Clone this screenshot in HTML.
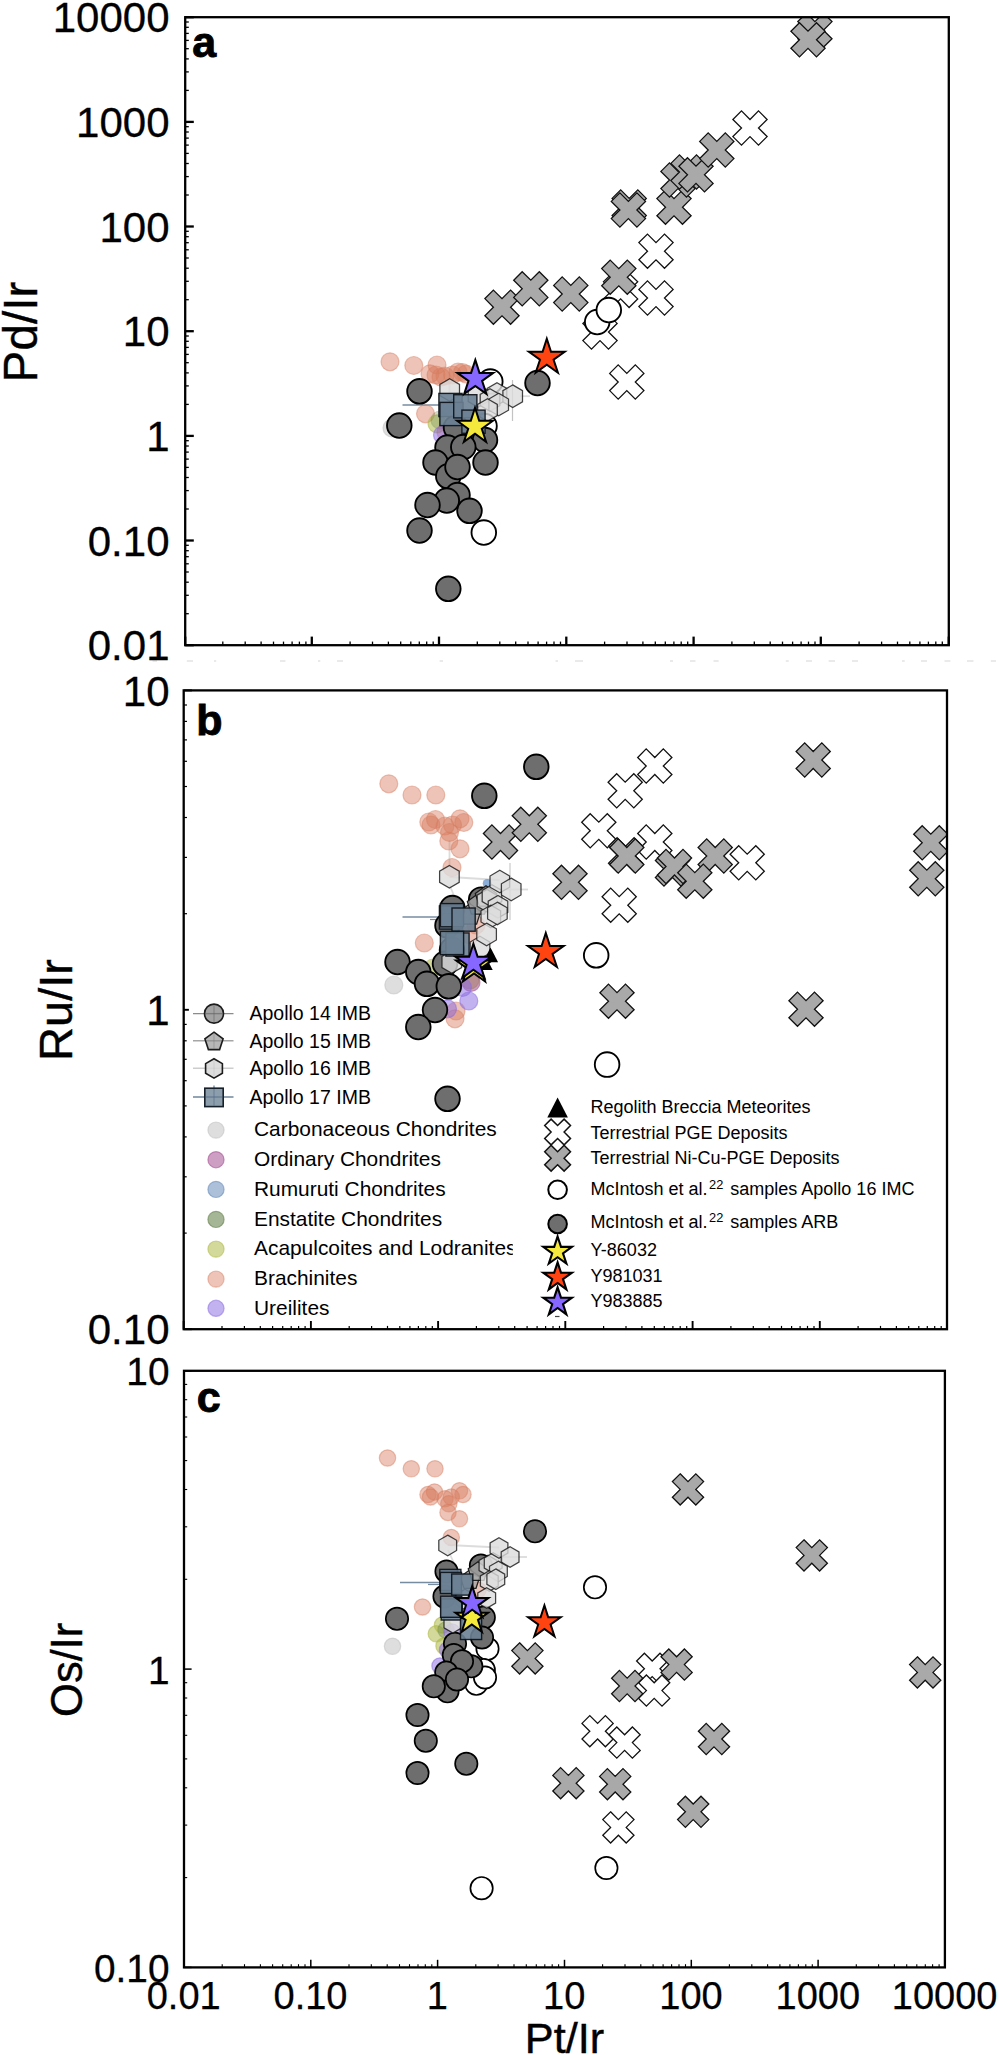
<!DOCTYPE html>
<html><head><meta charset="utf-8"><title>PGE ratios</title>
<style>html,body{margin:0;padding:0;background:#fff}svg{display:block}text{font-family:"Liberation Sans",sans-serif}</style>
</head><body>
<svg width="1000" height="2055" viewBox="0 0 1000 2055">
<rect width="1000" height="2055" fill="#fff"/>
<g stroke="#e1e1e1" stroke-width="1.4">
<line x1="152.5" y1="661" x2="157" y2="661"/>
<line x1="186.8" y1="661" x2="193" y2="661"/>
<line x1="214" y1="661" x2="216.2" y2="661"/>
<line x1="280" y1="661" x2="285.5" y2="661"/>
<line x1="318" y1="661" x2="320.3" y2="661"/>
<line x1="337" y1="661" x2="343" y2="661"/>
<line x1="439.6" y1="661" x2="443" y2="661"/>
<line x1="555.5" y1="661" x2="558" y2="661"/>
<line x1="575" y1="661" x2="583" y2="661"/>
<line x1="670" y1="661" x2="673" y2="661"/>
<line x1="690" y1="661" x2="695.5" y2="661"/>
<line x1="713.5" y1="661" x2="718.6" y2="661"/>
<line x1="785.8" y1="661" x2="788.7" y2="661"/>
<line x1="806" y1="661" x2="812" y2="661"/>
<line x1="828.6" y1="661" x2="835" y2="661"/>
<line x1="852" y1="661" x2="858" y2="661"/>
<line x1="902" y1="661" x2="904.7" y2="661"/>
<line x1="921" y1="661" x2="927" y2="661"/>
<line x1="944.5" y1="661" x2="950.4" y2="661"/>
<line x1="967" y1="661" x2="973.5" y2="661"/>
<line x1="990.8" y1="661" x2="996" y2="661"/>
</g>
<g id="panel-a">
<clipPath id="clip-a"><rect x="185.2" y="17.2" width="763.6" height="628.0"/></clipPath>
<g clip-path="url(#clip-a)">
<line x1="402.5" y1="405.0" x2="441.0" y2="405.0" stroke="rgba(95,120,145,0.85)" stroke-width="1.4"/>
<line x1="449.5" y1="372.0" x2="449.5" y2="394.0" stroke="rgba(218,218,218,0.95)" stroke-width="1.8"/>
<line x1="457.0" y1="430.0" x2="457.0" y2="443.0" stroke="rgba(218,218,218,0.95)" stroke-width="1.8"/>
<line x1="512.5" y1="380.0" x2="512.5" y2="421.0" stroke="rgba(170,170,170,0.7)" stroke-width="1.2"/>
<line x1="520.0" y1="396.2" x2="530.0" y2="396.2" stroke="rgba(218,218,218,0.95)" stroke-width="1.8"/>
<line x1="487.5" y1="395.0" x2="487.5" y2="425.0" stroke="rgba(218,218,218,0.95)" stroke-width="1.8"/>
<circle cx="392.0" cy="428.0" r="9.0" fill="rgba(190,190,190,0.5)" stroke="rgba(190,190,190,0.5)" stroke-width="1.2"/>
<circle cx="390.0" cy="361.8" r="9.0" fill="rgba(215,125,95,0.45)" stroke="rgba(215,125,95,0.45)" stroke-width="1.2"/>
<circle cx="413.8" cy="365.5" r="9.0" fill="rgba(215,125,95,0.45)" stroke="rgba(215,125,95,0.45)" stroke-width="1.2"/>
<circle cx="437.0" cy="365.0" r="9.0" fill="rgba(215,125,95,0.45)" stroke="rgba(215,125,95,0.45)" stroke-width="1.2"/>
<circle cx="430.0" cy="373.8" r="9.0" fill="rgba(215,125,95,0.45)" stroke="rgba(215,125,95,0.45)" stroke-width="1.2"/>
<circle cx="436.0" cy="375.0" r="9.0" fill="rgba(215,125,95,0.45)" stroke="rgba(215,125,95,0.45)" stroke-width="1.2"/>
<circle cx="441.0" cy="377.0" r="9.0" fill="rgba(215,125,95,0.45)" stroke="rgba(215,125,95,0.45)" stroke-width="1.2"/>
<circle cx="445.0" cy="376.0" r="9.0" fill="rgba(215,125,95,0.45)" stroke="rgba(215,125,95,0.45)" stroke-width="1.2"/>
<circle cx="452.5" cy="375.0" r="9.0" fill="rgba(215,125,95,0.45)" stroke="rgba(215,125,95,0.45)" stroke-width="1.2"/>
<circle cx="458.0" cy="372.0" r="9.0" fill="rgba(215,125,95,0.45)" stroke="rgba(215,125,95,0.45)" stroke-width="1.2"/>
<circle cx="462.5" cy="372.5" r="9.0" fill="rgba(215,125,95,0.45)" stroke="rgba(215,125,95,0.45)" stroke-width="1.2"/>
<circle cx="466.0" cy="374.0" r="9.0" fill="rgba(215,125,95,0.45)" stroke="rgba(215,125,95,0.45)" stroke-width="1.2"/>
<circle cx="425.5" cy="413.8" r="9.0" fill="rgba(215,125,95,0.45)" stroke="rgba(215,125,95,0.45)" stroke-width="1.2"/>
<circle cx="437.0" cy="423.8" r="9.0" fill="rgba(175,185,70,0.545)" stroke="rgba(175,185,70,0.545)" stroke-width="1.2"/>
<circle cx="440.0" cy="420.0" r="9.0" fill="rgba(95,125,70,0.56)" stroke="rgba(95,125,70,0.56)" stroke-width="1.2" opacity="0.5"/>
<circle cx="442.5" cy="435.0" r="9.0" fill="rgba(140,110,225,0.53)" stroke="rgba(140,110,225,0.53)" stroke-width="1.2"/>
<circle cx="446.0" cy="432.0" r="9.0" fill="rgba(160,70,140,0.52)" stroke="rgba(160,70,140,0.52)" stroke-width="1.2" opacity="0.5"/>
<polygon points="741.5,110.9 750.0,119.5 758.5,110.9 767.1,119.5 758.5,128.0 767.1,136.6 758.5,145.1 750.0,136.6 741.5,145.1 732.9,136.6 741.5,128.0 732.9,119.5" fill="#fff" stroke="#111" stroke-width="1.3" stroke-linejoin="miter"/>
<polygon points="647.5,234.1 656.0,242.6 664.5,234.1 673.1,242.6 664.5,251.2 673.1,259.8 664.5,268.3 656.0,259.8 647.5,268.3 638.9,259.8 647.5,251.2 638.9,242.6" fill="#fff" stroke="#111" stroke-width="1.3" stroke-linejoin="miter"/>
<polygon points="647.5,280.9 656.0,289.4 664.5,280.9 673.1,289.4 664.5,298.0 673.1,306.6 664.5,315.1 656.0,306.6 647.5,315.1 638.9,306.6 647.5,298.0 638.9,289.4" fill="#fff" stroke="#111" stroke-width="1.3" stroke-linejoin="miter"/>
<polygon points="612.1,273.3 620.6,281.8 629.1,273.3 637.7,281.8 629.1,290.4 637.7,298.9 629.1,307.5 620.6,298.9 612.1,307.5 603.5,298.9 612.1,290.4 603.5,281.8" fill="#fff" stroke="#111" stroke-width="1.3" stroke-linejoin="miter"/>
<polygon points="591.5,314.9 600.0,323.4 608.5,314.9 617.1,323.4 608.5,332.0 617.1,340.6 608.5,349.1 600.0,340.6 591.5,349.1 582.9,340.6 591.5,332.0 582.9,323.4" fill="#fff" stroke="#111" stroke-width="1.3" stroke-linejoin="miter"/>
<polygon points="618.2,364.9 626.8,373.4 635.3,364.9 643.9,373.4 635.3,382.0 643.9,390.6 635.3,399.1 626.8,390.6 618.2,399.1 609.7,390.6 618.2,382.0 609.7,373.4" fill="#fff" stroke="#111" stroke-width="1.3" stroke-linejoin="miter"/>
<polygon points="806.4,13.1 814.9,21.6 823.4,13.1 832.0,21.6 823.4,30.2 832.0,38.8 823.4,47.3 814.9,38.8 806.4,47.3 797.8,38.8 806.4,30.2 797.8,21.6" fill="#a9a9a9" stroke="#111" stroke-width="1.3" stroke-linejoin="miter"/>
<polygon points="799.5,22.7 808.0,31.2 816.5,22.7 825.1,31.2 816.5,39.8 825.1,48.3 816.5,56.9 808.0,48.3 799.5,56.9 790.9,48.3 799.5,39.8 790.9,31.2" fill="#a9a9a9" stroke="#111" stroke-width="1.3" stroke-linejoin="miter"/>
<polygon points="493.4,290.1 502.0,298.6 510.6,290.1 519.1,298.6 510.6,307.2 519.1,315.8 510.6,324.3 502.0,315.8 493.4,324.3 484.9,315.8 493.4,307.2 484.9,298.6" fill="#a9a9a9" stroke="#111" stroke-width="1.3" stroke-linejoin="miter"/>
<polygon points="522.2,271.7 530.8,280.2 539.3,271.7 547.9,280.2 539.3,288.8 547.9,297.4 539.3,305.9 530.8,297.4 522.2,305.9 513.7,297.4 522.2,288.8 513.7,280.2" fill="#a9a9a9" stroke="#111" stroke-width="1.3" stroke-linejoin="miter"/>
<polygon points="562.2,276.9 570.8,285.4 579.3,276.9 587.9,285.4 579.3,294.0 587.9,302.6 579.3,311.1 570.8,302.6 562.2,311.1 553.7,302.6 562.2,294.0 553.7,285.4" fill="#a9a9a9" stroke="#111" stroke-width="1.3" stroke-linejoin="miter"/>
<polygon points="610.2,260.1 618.8,268.6 627.3,260.1 635.9,268.6 627.3,277.2 635.9,285.8 627.3,294.3 618.8,285.8 610.2,294.3 601.7,285.8 610.2,277.2 601.7,268.6" fill="#a9a9a9" stroke="#111" stroke-width="1.3" stroke-linejoin="miter"/>
<polygon points="620.7,189.9 629.2,198.4 637.8,189.9 646.3,198.4 637.8,207.0 646.3,215.6 637.8,224.1 629.2,215.6 620.7,224.1 612.1,215.6 620.7,207.0 612.1,198.4" fill="#a9a9a9" stroke="#111" stroke-width="1.3" stroke-linejoin="miter"/>
<polygon points="619.9,192.9 628.4,201.4 636.9,192.9 645.5,201.4 636.9,210.0 645.5,218.6 636.9,227.1 628.4,218.6 619.9,227.1 611.3,218.6 619.9,210.0 611.3,201.4" fill="#a9a9a9" stroke="#111" stroke-width="1.3" stroke-linejoin="miter"/>
<polygon points="665.5,190.1 674.0,198.6 682.5,190.1 691.1,198.6 682.5,207.2 691.1,215.8 682.5,224.3 674.0,215.8 665.5,224.3 656.9,215.8 665.5,207.2 656.9,198.6" fill="#a9a9a9" stroke="#111" stroke-width="1.3" stroke-linejoin="miter"/>
<polygon points="669.5,162.9 678.0,171.4 686.5,162.9 695.1,171.4 686.5,180.0 695.1,188.6 686.5,197.1 678.0,188.6 669.5,197.1 660.9,188.6 669.5,180.0 660.9,171.4" fill="#a9a9a9" stroke="#111" stroke-width="1.3" stroke-linejoin="miter"/>
<polygon points="679.5,154.9 688.0,163.4 696.5,154.9 705.1,163.4 696.5,172.0 705.1,180.6 696.5,189.1 688.0,180.6 679.5,189.1 670.9,180.6 679.5,172.0 670.9,163.4" fill="#a9a9a9" stroke="#111" stroke-width="1.3" stroke-linejoin="miter"/>
<polygon points="687.5,157.7 696.0,166.2 704.5,157.7 713.1,166.2 704.5,174.8 713.1,183.4 704.5,191.9 696.0,183.4 687.5,191.9 678.9,183.4 687.5,174.8 678.9,166.2" fill="#a9a9a9" stroke="#111" stroke-width="1.3" stroke-linejoin="miter"/>
<polygon points="708.2,132.9 716.8,141.4 725.3,132.9 733.9,141.4 725.3,150.0 733.9,158.6 725.3,167.1 716.8,158.6 708.2,167.1 699.7,158.6 708.2,150.0 699.7,141.4" fill="#a9a9a9" stroke="#111" stroke-width="1.3" stroke-linejoin="miter"/>
<circle cx="597.2" cy="322.0" r="12.3" fill="#fff" stroke="#000" stroke-width="1.85"/>
<circle cx="608.8" cy="310.0" r="12.3" fill="#fff" stroke="#000" stroke-width="1.85"/>
<circle cx="490.3" cy="381.5" r="12.3" fill="#fff" stroke="#000" stroke-width="1.85"/>
<circle cx="484.5" cy="426.0" r="12.3" fill="#fff" stroke="#000" stroke-width="1.85"/>
<circle cx="483.8" cy="532.5" r="12.3" fill="#fff" stroke="#000" stroke-width="1.85"/>
<circle cx="419.5" cy="391.3" r="12.3" fill="#6e6e6e" stroke="#000" stroke-width="1.85"/>
<circle cx="399.3" cy="425.5" r="12.3" fill="#6e6e6e" stroke="#000" stroke-width="1.85"/>
<circle cx="537.5" cy="383.0" r="12.3" fill="#6e6e6e" stroke="#000" stroke-width="1.85"/>
<circle cx="456.0" cy="427.5" r="12.3" fill="#6e6e6e" stroke="#000" stroke-width="1.85"/>
<circle cx="447.5" cy="447.5" r="12.3" fill="#6e6e6e" stroke="#000" stroke-width="1.85"/>
<circle cx="485.0" cy="440.0" r="12.3" fill="#6e6e6e" stroke="#000" stroke-width="1.85"/>
<circle cx="463.3" cy="447.0" r="12.3" fill="#6e6e6e" stroke="#000" stroke-width="1.85"/>
<circle cx="435.5" cy="462.5" r="12.3" fill="#6e6e6e" stroke="#000" stroke-width="1.85"/>
<circle cx="448.3" cy="476.3" r="12.3" fill="#6e6e6e" stroke="#000" stroke-width="1.85"/>
<circle cx="457.5" cy="467.0" r="12.3" fill="#6e6e6e" stroke="#000" stroke-width="1.85"/>
<circle cx="485.5" cy="462.5" r="12.3" fill="#6e6e6e" stroke="#000" stroke-width="1.85"/>
<circle cx="457.5" cy="495.0" r="12.3" fill="#6e6e6e" stroke="#000" stroke-width="1.85"/>
<circle cx="446.8" cy="500.5" r="12.3" fill="#6e6e6e" stroke="#000" stroke-width="1.85"/>
<circle cx="427.5" cy="505.0" r="12.3" fill="#6e6e6e" stroke="#000" stroke-width="1.85"/>
<circle cx="469.5" cy="510.8" r="12.3" fill="#6e6e6e" stroke="#000" stroke-width="1.85"/>
<circle cx="419.5" cy="530.5" r="12.3" fill="#6e6e6e" stroke="#000" stroke-width="1.85"/>
<circle cx="448.3" cy="588.8" r="12.3" fill="#6e6e6e" stroke="#000" stroke-width="1.85"/>
<polygon points="449.7,378.7 459.5,384.4 459.5,395.6 449.7,401.3 439.9,395.6 439.9,384.4" fill="rgba(220,220,220,0.8)" stroke="rgba(20,20,20,0.8)" stroke-width="1.25"/>
<polygon points="497.0,382.7 506.8,388.4 506.8,399.6 497.0,405.3 487.2,399.6 487.2,388.4" fill="rgba(220,220,220,0.8)" stroke="rgba(20,20,20,0.8)" stroke-width="1.25"/>
<polygon points="512.7,384.9 522.5,390.6 522.5,401.8 512.7,407.5 502.9,401.8 502.9,390.6" fill="rgba(220,220,220,0.8)" stroke="rgba(20,20,20,0.8)" stroke-width="1.25"/>
<polygon points="478.0,384.7 487.8,390.4 487.8,401.6 478.0,407.3 468.2,401.6 468.2,390.4" fill="rgba(220,220,220,0.8)" stroke="rgba(20,20,20,0.8)" stroke-width="1.25"/>
<polygon points="490.0,388.7 499.8,394.4 499.8,405.6 490.0,411.3 480.2,405.6 480.2,394.4" fill="rgba(220,220,220,0.8)" stroke="rgba(20,20,20,0.8)" stroke-width="1.25"/>
<polygon points="498.7,393.3 508.5,399.0 508.5,410.2 498.7,415.9 488.9,410.2 488.9,399.0" fill="rgba(220,220,220,0.8)" stroke="rgba(20,20,20,0.8)" stroke-width="1.25"/>
<polygon points="487.5,398.7 497.3,404.4 497.3,415.6 487.5,421.3 477.7,415.6 477.7,404.4" fill="rgba(220,220,220,0.8)" stroke="rgba(20,20,20,0.8)" stroke-width="1.25"/>
<rect x="438.9" y="393.4" width="23.2" height="23.2" fill="rgba(108,129,148,0.9)" stroke="rgba(10,16,22,0.9)" stroke-width="1.4"/>
<rect x="439.9" y="402.4" width="23.2" height="23.2" fill="rgba(108,129,148,0.9)" stroke="rgba(10,16,22,0.9)" stroke-width="1.4"/>
<rect x="453.7" y="394.7" width="23.2" height="23.2" fill="rgba(108,129,148,0.9)" stroke="rgba(10,16,22,0.9)" stroke-width="1.4"/>
<rect x="461.9" y="410.1" width="23.2" height="23.2" fill="rgba(108,129,148,0.9)" stroke="rgba(10,16,22,0.9)" stroke-width="1.4"/>
<polygon points="475.0,407.8 479.2,420.8 492.9,420.8 481.8,428.8 486.1,441.8 475.0,433.8 463.9,441.8 468.2,428.8 457.1,420.8 470.8,420.8" fill="#f4e93c" stroke="#000" stroke-width="2.0" stroke-linejoin="miter"/>
<polygon points="546.8,338.7 551.0,351.7 564.7,351.7 553.6,359.7 557.9,372.7 546.8,364.7 535.7,372.7 540.0,359.7 528.9,351.7 542.6,351.7" fill="#ff4412" stroke="#000" stroke-width="2.0" stroke-linejoin="miter"/>
<polygon points="475.3,359.9 479.5,372.9 493.2,372.9 482.1,380.9 486.4,393.9 475.3,385.9 464.2,393.9 468.5,380.9 457.4,372.9 471.1,372.9" fill="#8667ff" stroke="#000" stroke-width="2.0" stroke-linejoin="miter"/>
</g>
<line x1="185.2" y1="645.2" x2="185.2" y2="636.6" stroke="#000" stroke-width="2.3"/>
<line x1="222.8" y1="645.2" x2="222.8" y2="641.6" stroke="#000" stroke-width="1.3"/>
<line x1="245.2" y1="645.2" x2="245.2" y2="641.6" stroke="#000" stroke-width="1.3"/>
<line x1="261.1" y1="645.2" x2="261.1" y2="641.6" stroke="#000" stroke-width="1.3"/>
<line x1="273.5" y1="645.2" x2="273.5" y2="641.6" stroke="#000" stroke-width="1.3"/>
<line x1="283.5" y1="645.2" x2="283.5" y2="641.6" stroke="#000" stroke-width="1.3"/>
<line x1="292.1" y1="645.2" x2="292.1" y2="641.6" stroke="#000" stroke-width="1.3"/>
<line x1="299.4" y1="645.2" x2="299.4" y2="641.6" stroke="#000" stroke-width="1.3"/>
<line x1="305.9" y1="645.2" x2="305.9" y2="641.6" stroke="#000" stroke-width="1.3"/>
<line x1="311.8" y1="645.2" x2="311.8" y2="636.6" stroke="#000" stroke-width="2.3"/>
<line x1="350.1" y1="645.2" x2="350.1" y2="641.6" stroke="#000" stroke-width="1.3"/>
<line x1="372.5" y1="645.2" x2="372.5" y2="641.6" stroke="#000" stroke-width="1.3"/>
<line x1="388.4" y1="645.2" x2="388.4" y2="641.6" stroke="#000" stroke-width="1.3"/>
<line x1="400.7" y1="645.2" x2="400.7" y2="641.6" stroke="#000" stroke-width="1.3"/>
<line x1="410.8" y1="645.2" x2="410.8" y2="641.6" stroke="#000" stroke-width="1.3"/>
<line x1="419.3" y1="645.2" x2="419.3" y2="641.6" stroke="#000" stroke-width="1.3"/>
<line x1="426.7" y1="645.2" x2="426.7" y2="641.6" stroke="#000" stroke-width="1.3"/>
<line x1="433.2" y1="645.2" x2="433.2" y2="641.6" stroke="#000" stroke-width="1.3"/>
<line x1="439.0" y1="645.2" x2="439.0" y2="636.6" stroke="#000" stroke-width="2.3"/>
<line x1="477.3" y1="645.2" x2="477.3" y2="641.6" stroke="#000" stroke-width="1.3"/>
<line x1="499.8" y1="645.2" x2="499.8" y2="641.6" stroke="#000" stroke-width="1.3"/>
<line x1="515.7" y1="645.2" x2="515.7" y2="641.6" stroke="#000" stroke-width="1.3"/>
<line x1="528.0" y1="645.2" x2="528.0" y2="641.6" stroke="#000" stroke-width="1.3"/>
<line x1="538.1" y1="645.2" x2="538.1" y2="641.6" stroke="#000" stroke-width="1.3"/>
<line x1="546.6" y1="645.2" x2="546.6" y2="641.6" stroke="#000" stroke-width="1.3"/>
<line x1="554.0" y1="645.2" x2="554.0" y2="641.6" stroke="#000" stroke-width="1.3"/>
<line x1="560.5" y1="645.2" x2="560.5" y2="641.6" stroke="#000" stroke-width="1.3"/>
<line x1="566.3" y1="645.2" x2="566.3" y2="636.6" stroke="#000" stroke-width="2.3"/>
<line x1="604.6" y1="645.2" x2="604.6" y2="641.6" stroke="#000" stroke-width="1.3"/>
<line x1="627.0" y1="645.2" x2="627.0" y2="641.6" stroke="#000" stroke-width="1.3"/>
<line x1="642.9" y1="645.2" x2="642.9" y2="641.6" stroke="#000" stroke-width="1.3"/>
<line x1="655.3" y1="645.2" x2="655.3" y2="641.6" stroke="#000" stroke-width="1.3"/>
<line x1="665.3" y1="645.2" x2="665.3" y2="641.6" stroke="#000" stroke-width="1.3"/>
<line x1="673.9" y1="645.2" x2="673.9" y2="641.6" stroke="#000" stroke-width="1.3"/>
<line x1="681.2" y1="645.2" x2="681.2" y2="641.6" stroke="#000" stroke-width="1.3"/>
<line x1="687.7" y1="645.2" x2="687.7" y2="641.6" stroke="#000" stroke-width="1.3"/>
<line x1="693.6" y1="645.2" x2="693.6" y2="636.6" stroke="#000" stroke-width="2.3"/>
<line x1="731.9" y1="645.2" x2="731.9" y2="641.6" stroke="#000" stroke-width="1.3"/>
<line x1="754.3" y1="645.2" x2="754.3" y2="641.6" stroke="#000" stroke-width="1.3"/>
<line x1="770.2" y1="645.2" x2="770.2" y2="641.6" stroke="#000" stroke-width="1.3"/>
<line x1="782.5" y1="645.2" x2="782.5" y2="641.6" stroke="#000" stroke-width="1.3"/>
<line x1="792.6" y1="645.2" x2="792.6" y2="641.6" stroke="#000" stroke-width="1.3"/>
<line x1="801.1" y1="645.2" x2="801.1" y2="641.6" stroke="#000" stroke-width="1.3"/>
<line x1="808.5" y1="645.2" x2="808.5" y2="641.6" stroke="#000" stroke-width="1.3"/>
<line x1="815.0" y1="645.2" x2="815.0" y2="641.6" stroke="#000" stroke-width="1.3"/>
<line x1="820.8" y1="645.2" x2="820.8" y2="636.6" stroke="#000" stroke-width="2.3"/>
<line x1="859.1" y1="645.2" x2="859.1" y2="641.6" stroke="#000" stroke-width="1.3"/>
<line x1="881.6" y1="645.2" x2="881.6" y2="641.6" stroke="#000" stroke-width="1.3"/>
<line x1="897.5" y1="645.2" x2="897.5" y2="641.6" stroke="#000" stroke-width="1.3"/>
<line x1="909.8" y1="645.2" x2="909.8" y2="641.6" stroke="#000" stroke-width="1.3"/>
<line x1="919.9" y1="645.2" x2="919.9" y2="641.6" stroke="#000" stroke-width="1.3"/>
<line x1="928.4" y1="645.2" x2="928.4" y2="641.6" stroke="#000" stroke-width="1.3"/>
<line x1="935.8" y1="645.2" x2="935.8" y2="641.6" stroke="#000" stroke-width="1.3"/>
<line x1="942.3" y1="645.2" x2="942.3" y2="641.6" stroke="#000" stroke-width="1.3"/>
<line x1="948.8" y1="645.2" x2="948.8" y2="636.6" stroke="#000" stroke-width="2.3"/>
<line x1="185.2" y1="645.2" x2="193.8" y2="645.2" stroke="#000" stroke-width="2.3"/>
<line x1="185.2" y1="613.7" x2="188.8" y2="613.7" stroke="#000" stroke-width="1.3"/>
<line x1="185.2" y1="595.3" x2="188.8" y2="595.3" stroke="#000" stroke-width="1.3"/>
<line x1="185.2" y1="582.2" x2="188.8" y2="582.2" stroke="#000" stroke-width="1.3"/>
<line x1="185.2" y1="572.0" x2="188.8" y2="572.0" stroke="#000" stroke-width="1.3"/>
<line x1="185.2" y1="563.8" x2="188.8" y2="563.8" stroke="#000" stroke-width="1.3"/>
<line x1="185.2" y1="556.7" x2="188.8" y2="556.7" stroke="#000" stroke-width="1.3"/>
<line x1="185.2" y1="550.7" x2="188.8" y2="550.7" stroke="#000" stroke-width="1.3"/>
<line x1="185.2" y1="545.3" x2="188.8" y2="545.3" stroke="#000" stroke-width="1.3"/>
<line x1="185.2" y1="540.5" x2="193.8" y2="540.5" stroke="#000" stroke-width="2.3"/>
<line x1="185.2" y1="509.0" x2="188.8" y2="509.0" stroke="#000" stroke-width="1.3"/>
<line x1="185.2" y1="490.6" x2="188.8" y2="490.6" stroke="#000" stroke-width="1.3"/>
<line x1="185.2" y1="477.5" x2="188.8" y2="477.5" stroke="#000" stroke-width="1.3"/>
<line x1="185.2" y1="467.4" x2="188.8" y2="467.4" stroke="#000" stroke-width="1.3"/>
<line x1="185.2" y1="459.1" x2="188.8" y2="459.1" stroke="#000" stroke-width="1.3"/>
<line x1="185.2" y1="452.1" x2="188.8" y2="452.1" stroke="#000" stroke-width="1.3"/>
<line x1="185.2" y1="446.0" x2="188.8" y2="446.0" stroke="#000" stroke-width="1.3"/>
<line x1="185.2" y1="440.7" x2="188.8" y2="440.7" stroke="#000" stroke-width="1.3"/>
<line x1="185.2" y1="435.9" x2="193.8" y2="435.9" stroke="#000" stroke-width="2.3"/>
<line x1="185.2" y1="404.4" x2="188.8" y2="404.4" stroke="#000" stroke-width="1.3"/>
<line x1="185.2" y1="385.9" x2="188.8" y2="385.9" stroke="#000" stroke-width="1.3"/>
<line x1="185.2" y1="372.9" x2="188.8" y2="372.9" stroke="#000" stroke-width="1.3"/>
<line x1="185.2" y1="362.7" x2="188.8" y2="362.7" stroke="#000" stroke-width="1.3"/>
<line x1="185.2" y1="354.4" x2="188.8" y2="354.4" stroke="#000" stroke-width="1.3"/>
<line x1="185.2" y1="347.4" x2="188.8" y2="347.4" stroke="#000" stroke-width="1.3"/>
<line x1="185.2" y1="341.3" x2="188.8" y2="341.3" stroke="#000" stroke-width="1.3"/>
<line x1="185.2" y1="336.0" x2="188.8" y2="336.0" stroke="#000" stroke-width="1.3"/>
<line x1="185.2" y1="331.2" x2="193.8" y2="331.2" stroke="#000" stroke-width="2.3"/>
<line x1="185.2" y1="299.7" x2="188.8" y2="299.7" stroke="#000" stroke-width="1.3"/>
<line x1="185.2" y1="281.3" x2="188.8" y2="281.3" stroke="#000" stroke-width="1.3"/>
<line x1="185.2" y1="268.2" x2="188.8" y2="268.2" stroke="#000" stroke-width="1.3"/>
<line x1="185.2" y1="258.0" x2="188.8" y2="258.0" stroke="#000" stroke-width="1.3"/>
<line x1="185.2" y1="249.8" x2="188.8" y2="249.8" stroke="#000" stroke-width="1.3"/>
<line x1="185.2" y1="242.7" x2="188.8" y2="242.7" stroke="#000" stroke-width="1.3"/>
<line x1="185.2" y1="236.7" x2="188.8" y2="236.7" stroke="#000" stroke-width="1.3"/>
<line x1="185.2" y1="231.3" x2="188.8" y2="231.3" stroke="#000" stroke-width="1.3"/>
<line x1="185.2" y1="226.5" x2="193.8" y2="226.5" stroke="#000" stroke-width="2.3"/>
<line x1="185.2" y1="195.0" x2="188.8" y2="195.0" stroke="#000" stroke-width="1.3"/>
<line x1="185.2" y1="176.6" x2="188.8" y2="176.6" stroke="#000" stroke-width="1.3"/>
<line x1="185.2" y1="163.5" x2="188.8" y2="163.5" stroke="#000" stroke-width="1.3"/>
<line x1="185.2" y1="153.4" x2="188.8" y2="153.4" stroke="#000" stroke-width="1.3"/>
<line x1="185.2" y1="145.1" x2="188.8" y2="145.1" stroke="#000" stroke-width="1.3"/>
<line x1="185.2" y1="138.1" x2="188.8" y2="138.1" stroke="#000" stroke-width="1.3"/>
<line x1="185.2" y1="132.0" x2="188.8" y2="132.0" stroke="#000" stroke-width="1.3"/>
<line x1="185.2" y1="126.7" x2="188.8" y2="126.7" stroke="#000" stroke-width="1.3"/>
<line x1="185.2" y1="121.9" x2="193.8" y2="121.9" stroke="#000" stroke-width="2.3"/>
<line x1="185.2" y1="90.4" x2="188.8" y2="90.4" stroke="#000" stroke-width="1.3"/>
<line x1="185.2" y1="71.9" x2="188.8" y2="71.9" stroke="#000" stroke-width="1.3"/>
<line x1="185.2" y1="58.9" x2="188.8" y2="58.9" stroke="#000" stroke-width="1.3"/>
<line x1="185.2" y1="48.7" x2="188.8" y2="48.7" stroke="#000" stroke-width="1.3"/>
<line x1="185.2" y1="40.4" x2="188.8" y2="40.4" stroke="#000" stroke-width="1.3"/>
<line x1="185.2" y1="33.4" x2="188.8" y2="33.4" stroke="#000" stroke-width="1.3"/>
<line x1="185.2" y1="27.3" x2="188.8" y2="27.3" stroke="#000" stroke-width="1.3"/>
<line x1="185.2" y1="22.0" x2="188.8" y2="22.0" stroke="#000" stroke-width="1.3"/>
<line x1="185.2" y1="17.2" x2="193.8" y2="17.2" stroke="#000" stroke-width="2.3"/>
<rect x="185.2" y="17.2" width="763.6" height="628.0" fill="none" stroke="#000" stroke-width="2.3"/>
</g>
<g id="panel-b">
<clipPath id="clip-b"><rect x="183.7" y="690.4" width="763.3" height="638.8"/></clipPath>
<g clip-path="url(#clip-b)">
<line x1="402.5" y1="917.0" x2="441.0" y2="917.0" stroke="rgba(95,120,145,0.85)" stroke-width="1.4"/>
<line x1="430.0" y1="919.5" x2="441.0" y2="919.5" stroke="rgba(95,120,145,0.85)" stroke-width="1.2"/>
<line x1="449.5" y1="840.0" x2="449.5" y2="870.0" stroke="rgba(218,218,218,0.95)" stroke-width="1.8"/>
<line x1="449.5" y1="877.0" x2="499.5" y2="880.0" stroke="rgba(218,218,218,0.95)" stroke-width="1.8"/>
<line x1="449.5" y1="885.0" x2="458.0" y2="905.0" stroke="rgba(218,218,218,0.95)" stroke-width="1.8"/>
<line x1="510.0" y1="863.0" x2="510.0" y2="920.0" stroke="rgba(218,218,218,0.95)" stroke-width="1.8"/>
<line x1="500.0" y1="889.5" x2="528.0" y2="889.5" stroke="rgba(218,218,218,0.95)" stroke-width="1.8"/>
<circle cx="393.8" cy="985.0" r="9.0" fill="rgba(190,190,190,0.5)" stroke="rgba(190,190,190,0.5)" stroke-width="1.2"/>
<circle cx="388.8" cy="783.8" r="9.0" fill="rgba(215,125,95,0.45)" stroke="rgba(215,125,95,0.45)" stroke-width="1.2"/>
<circle cx="412.0" cy="795.0" r="9.0" fill="rgba(215,125,95,0.45)" stroke="rgba(215,125,95,0.45)" stroke-width="1.2"/>
<circle cx="435.8" cy="795.0" r="9.0" fill="rgba(215,125,95,0.45)" stroke="rgba(215,125,95,0.45)" stroke-width="1.2"/>
<circle cx="428.8" cy="822.0" r="9.0" fill="rgba(215,125,95,0.45)" stroke="rgba(215,125,95,0.45)" stroke-width="1.2"/>
<circle cx="435.5" cy="819.5" r="9.0" fill="rgba(215,125,95,0.45)" stroke="rgba(215,125,95,0.45)" stroke-width="1.2"/>
<circle cx="431.0" cy="825.0" r="9.0" fill="rgba(215,125,95,0.45)" stroke="rgba(215,125,95,0.45)" stroke-width="1.2"/>
<circle cx="445.0" cy="826.0" r="9.0" fill="rgba(215,125,95,0.45)" stroke="rgba(215,125,95,0.45)" stroke-width="1.2"/>
<circle cx="452.5" cy="825.0" r="9.0" fill="rgba(215,125,95,0.45)" stroke="rgba(215,125,95,0.45)" stroke-width="1.2"/>
<circle cx="460.0" cy="818.8" r="9.0" fill="rgba(215,125,95,0.45)" stroke="rgba(215,125,95,0.45)" stroke-width="1.2"/>
<circle cx="463.8" cy="822.5" r="9.0" fill="rgba(215,125,95,0.45)" stroke="rgba(215,125,95,0.45)" stroke-width="1.2"/>
<circle cx="449.5" cy="832.5" r="9.0" fill="rgba(215,125,95,0.45)" stroke="rgba(215,125,95,0.45)" stroke-width="1.2"/>
<circle cx="448.8" cy="841.0" r="9.0" fill="rgba(215,125,95,0.45)" stroke="rgba(215,125,95,0.45)" stroke-width="1.2"/>
<circle cx="460.0" cy="848.8" r="9.0" fill="rgba(215,125,95,0.45)" stroke="rgba(215,125,95,0.45)" stroke-width="1.2"/>
<circle cx="452.0" cy="867.5" r="9.0" fill="rgba(215,125,95,0.45)" stroke="rgba(215,125,95,0.45)" stroke-width="1.2"/>
<circle cx="424.3" cy="943.0" r="9.0" fill="rgba(215,125,95,0.45)" stroke="rgba(215,125,95,0.45)" stroke-width="1.2"/>
<circle cx="456.0" cy="1011.0" r="9.0" fill="rgba(215,125,95,0.45)" stroke="rgba(215,125,95,0.45)" stroke-width="1.2"/>
<circle cx="455.0" cy="1018.8" r="9.0" fill="rgba(215,125,95,0.45)" stroke="rgba(215,125,95,0.45)" stroke-width="1.2"/>
<circle cx="470.0" cy="935.0" r="9.0" fill="rgba(215,125,95,0.45)" stroke="rgba(215,125,95,0.45)" stroke-width="1.2"/>
<circle cx="476.0" cy="925.0" r="9.0" fill="rgba(215,125,95,0.45)" stroke="rgba(215,125,95,0.45)" stroke-width="1.2"/>
<circle cx="470.0" cy="980.0" r="9.0" fill="rgba(175,185,70,0.545)" stroke="rgba(175,185,70,0.545)" stroke-width="1.2"/>
<circle cx="433.0" cy="968.0" r="9.0" fill="rgba(175,185,70,0.545)" stroke="rgba(175,185,70,0.545)" stroke-width="1.2"/>
<circle cx="471.0" cy="982.5" r="9.0" fill="rgba(160,70,140,0.52)" stroke="rgba(160,70,140,0.52)" stroke-width="1.2"/>
<circle cx="468.8" cy="1001.0" r="9.0" fill="rgba(140,110,225,0.53)" stroke="rgba(140,110,225,0.53)" stroke-width="1.2"/>
<circle cx="447.5" cy="1008.8" r="9.0" fill="rgba(140,110,225,0.53)" stroke="rgba(140,110,225,0.53)" stroke-width="1.2"/>
<circle cx="462.5" cy="987.5" r="9.0" fill="rgba(140,110,225,0.53)" stroke="rgba(140,110,225,0.53)" stroke-width="1.2"/>
<circle cx="487.2" cy="883.4" r="4.5" fill="rgba(90,140,200,0.7)"/>
<polygon points="646.2,748.9 654.8,757.5 663.3,748.9 671.9,757.5 663.3,766.0 671.9,774.5 663.3,783.1 654.8,774.5 646.2,783.1 637.7,774.5 646.2,766.0 637.7,757.5" fill="#fff" stroke="#111" stroke-width="1.3" stroke-linejoin="miter"/>
<polygon points="616.7,773.7 625.2,782.2 633.8,773.7 642.3,782.2 633.8,790.8 642.3,799.3 633.8,807.9 625.2,799.3 616.7,807.9 608.1,799.3 616.7,790.8 608.1,782.2" fill="#fff" stroke="#111" stroke-width="1.3" stroke-linejoin="miter"/>
<polygon points="590.2,813.7 598.8,822.2 607.3,813.7 615.9,822.2 607.3,830.8 615.9,839.3 607.3,847.9 598.8,839.3 590.2,847.9 581.7,839.3 590.2,830.8 581.7,822.2" fill="#fff" stroke="#111" stroke-width="1.3" stroke-linejoin="miter"/>
<polygon points="646.2,824.9 654.8,833.5 663.3,824.9 671.9,833.5 663.3,842.0 671.9,850.5 663.3,859.1 654.8,850.5 646.2,859.1 637.7,850.5 646.2,842.0 637.7,833.5" fill="#fff" stroke="#111" stroke-width="1.3" stroke-linejoin="miter"/>
<polygon points="738.7,845.7 747.2,854.2 755.8,845.7 764.3,854.2 755.8,862.8 764.3,871.3 755.8,879.9 747.2,871.3 738.7,879.9 730.1,871.3 738.7,862.8 730.1,854.2" fill="#fff" stroke="#111" stroke-width="1.3" stroke-linejoin="miter"/>
<polygon points="610.7,888.1 619.2,896.7 627.8,888.1 636.3,896.7 627.8,905.2 636.3,913.8 627.8,922.3 619.2,913.8 610.7,922.3 602.1,913.8 610.7,905.2 602.1,896.7" fill="#fff" stroke="#111" stroke-width="1.3" stroke-linejoin="miter"/>
<polygon points="804.7,742.9 813.2,751.5 821.8,742.9 830.3,751.5 821.8,760.0 830.3,768.5 821.8,777.1 813.2,768.5 804.7,777.1 796.1,768.5 804.7,760.0 796.1,751.5" fill="#a9a9a9" stroke="#111" stroke-width="1.3" stroke-linejoin="miter"/>
<polygon points="491.9,824.9 500.5,833.5 509.1,824.9 517.6,833.5 509.1,842.0 517.6,850.5 509.1,859.1 500.5,850.5 491.9,859.1 483.4,850.5 491.9,842.0 483.4,833.5" fill="#a9a9a9" stroke="#111" stroke-width="1.3" stroke-linejoin="miter"/>
<polygon points="520.8,807.2 529.3,815.8 537.8,807.2 546.4,815.8 537.8,824.3 546.4,832.8 537.8,841.4 529.3,832.8 520.8,841.4 512.2,832.8 520.8,824.3 512.2,815.8" fill="#a9a9a9" stroke="#111" stroke-width="1.3" stroke-linejoin="miter"/>
<polygon points="617.1,837.7 625.6,846.2 634.1,837.7 642.7,846.2 634.1,854.8 642.7,863.3 634.1,871.9 625.6,863.3 617.1,871.9 608.5,863.3 617.1,854.8 608.5,846.2" fill="#a9a9a9" stroke="#111" stroke-width="1.3" stroke-linejoin="miter"/>
<polygon points="618.2,838.9 626.8,847.5 635.3,838.9 643.9,847.5 635.3,856.0 643.9,864.5 635.3,873.1 626.8,864.5 618.2,873.1 609.7,864.5 618.2,856.0 609.7,847.5" fill="#a9a9a9" stroke="#111" stroke-width="1.3" stroke-linejoin="miter"/>
<polygon points="561.5,865.2 570.0,873.8 578.5,865.2 587.1,873.8 578.5,882.3 587.1,890.8 578.5,899.4 570.0,890.8 561.5,899.4 552.9,890.8 561.5,882.3 552.9,873.8" fill="#a9a9a9" stroke="#111" stroke-width="1.3" stroke-linejoin="miter"/>
<polygon points="664.0,851.9 672.5,860.5 681.0,851.9 689.6,860.5 681.0,869.0 689.6,877.5 681.0,886.1 672.5,877.5 664.0,886.1 655.4,877.5 664.0,869.0 655.4,860.5" fill="#a9a9a9" stroke="#111" stroke-width="1.3" stroke-linejoin="miter"/>
<polygon points="666.0,849.4 674.5,858.0 683.0,849.4 691.6,858.0 683.0,866.5 691.6,875.0 683.0,883.6 674.5,875.0 666.0,883.6 657.4,875.0 666.0,866.5 657.4,858.0" fill="#a9a9a9" stroke="#111" stroke-width="1.3" stroke-linejoin="miter"/>
<polygon points="706.7,838.9 715.2,847.5 723.8,838.9 732.3,847.5 723.8,856.0 732.3,864.5 723.8,873.1 715.2,864.5 706.7,873.1 698.1,864.5 706.7,856.0 698.1,847.5" fill="#a9a9a9" stroke="#111" stroke-width="1.3" stroke-linejoin="miter"/>
<polygon points="686.2,864.1 694.8,872.7 703.3,864.1 711.9,872.7 703.3,881.2 711.9,889.8 703.3,898.3 694.8,889.8 686.2,898.3 677.7,889.8 686.2,881.2 677.7,872.7" fill="#a9a9a9" stroke="#111" stroke-width="1.3" stroke-linejoin="miter"/>
<polygon points="922.2,825.7 930.8,834.2 939.3,825.7 947.9,834.2 939.3,842.8 947.9,851.3 939.3,859.9 930.8,851.3 922.2,859.9 913.7,851.3 922.2,842.8 913.7,834.2" fill="#a9a9a9" stroke="#111" stroke-width="1.3" stroke-linejoin="miter"/>
<polygon points="918.2,861.7 926.8,870.2 935.3,861.7 943.9,870.2 935.3,878.8 943.9,887.3 935.3,895.9 926.8,887.3 918.2,895.9 909.7,887.3 918.2,878.8 909.7,870.2" fill="#a9a9a9" stroke="#111" stroke-width="1.3" stroke-linejoin="miter"/>
<polygon points="608.5,984.1 617.0,992.7 625.5,984.1 634.1,992.7 625.5,1001.2 634.1,1009.8 625.5,1018.3 617.0,1009.8 608.5,1018.3 599.9,1009.8 608.5,1001.2 599.9,992.7" fill="#a9a9a9" stroke="#111" stroke-width="1.3" stroke-linejoin="miter"/>
<polygon points="797.5,992.1 806.0,1000.7 814.5,992.1 823.1,1000.7 814.5,1009.2 823.1,1017.8 814.5,1026.3 806.0,1017.8 797.5,1026.3 788.9,1017.8 797.5,1009.2 788.9,1000.7" fill="#a9a9a9" stroke="#111" stroke-width="1.3" stroke-linejoin="miter"/>
<circle cx="596.2" cy="955.3" r="12.3" fill="#fff" stroke="#000" stroke-width="1.85"/>
<circle cx="607.1" cy="1064.6" r="12.3" fill="#fff" stroke="#000" stroke-width="1.85"/>
<circle cx="536.3" cy="766.8" r="12.3" fill="#6e6e6e" stroke="#000" stroke-width="1.85"/>
<circle cx="484.3" cy="795.8" r="12.3" fill="#6e6e6e" stroke="#000" stroke-width="1.85"/>
<circle cx="481.2" cy="899.6" r="12.3" fill="#6e6e6e" stroke="#000" stroke-width="1.85"/>
<circle cx="452.4" cy="908.0" r="12.3" fill="#6e6e6e" stroke="#000" stroke-width="1.85"/>
<circle cx="447.5" cy="925.5" r="12.3" fill="#6e6e6e" stroke="#000" stroke-width="1.85"/>
<circle cx="452.0" cy="950.0" r="12.3" fill="#6e6e6e" stroke="#000" stroke-width="1.85"/>
<circle cx="397.5" cy="962.0" r="12.3" fill="#6e6e6e" stroke="#000" stroke-width="1.85"/>
<circle cx="445.0" cy="963.8" r="12.3" fill="#6e6e6e" stroke="#000" stroke-width="1.85"/>
<circle cx="418.3" cy="972.0" r="12.3" fill="#6e6e6e" stroke="#000" stroke-width="1.85"/>
<circle cx="427.0" cy="983.8" r="12.3" fill="#6e6e6e" stroke="#000" stroke-width="1.85"/>
<circle cx="448.8" cy="986.3" r="12.3" fill="#6e6e6e" stroke="#000" stroke-width="1.85"/>
<circle cx="435.0" cy="1010.0" r="12.3" fill="#6e6e6e" stroke="#000" stroke-width="1.85"/>
<circle cx="418.3" cy="1027.0" r="12.3" fill="#6e6e6e" stroke="#000" stroke-width="1.85"/>
<circle cx="447.5" cy="1098.8" r="12.3" fill="#6e6e6e" stroke="#000" stroke-width="1.85"/>
<polygon points="470.0,903.7 480.7,911.5 476.6,924.1 463.4,924.1 459.3,911.5" fill="rgba(165,165,165,0.78)" stroke="rgba(15,15,15,0.9)" stroke-width="1.25"/>
<polygon points="478.0,893.7 488.7,901.5 484.6,914.1 471.4,914.1 467.3,901.5" fill="rgba(165,165,165,0.78)" stroke="rgba(15,15,15,0.9)" stroke-width="1.25"/>
<polygon points="486.0,885.7 496.7,893.5 492.6,906.1 479.4,906.1 475.3,893.5" fill="rgba(165,165,165,0.78)" stroke="rgba(15,15,15,0.9)" stroke-width="1.25"/>
<polygon points="449.4,865.5 459.2,871.1 459.2,882.4 449.4,888.1 439.6,882.4 439.6,871.1" fill="rgba(220,220,220,0.8)" stroke="rgba(20,20,20,0.8)" stroke-width="1.25"/>
<polygon points="487.0,889.5 496.8,895.1 496.8,906.4 487.0,912.1 477.2,906.4 477.2,895.1" fill="rgba(220,220,220,0.8)" stroke="rgba(20,20,20,0.8)" stroke-width="1.25"/>
<polygon points="492.0,884.7 501.8,890.4 501.8,901.6 492.0,907.3 482.2,901.6 482.2,890.4" fill="rgba(220,220,220,0.8)" stroke="rgba(20,20,20,0.8)" stroke-width="1.25"/>
<polygon points="499.8,870.3 509.6,876.0 509.6,887.2 499.8,892.9 490.0,887.2 490.0,876.0" fill="rgba(220,220,220,0.8)" stroke="rgba(20,20,20,0.8)" stroke-width="1.25"/>
<polygon points="511.2,878.1 521.0,883.8 521.0,895.0 511.2,900.7 501.4,895.0 501.4,883.8" fill="rgba(220,220,220,0.8)" stroke="rgba(20,20,20,0.8)" stroke-width="1.25"/>
<polygon points="498.0,895.5 507.8,901.1 507.8,912.4 498.0,918.1 488.2,912.4 488.2,901.1" fill="rgba(220,220,220,0.8)" stroke="rgba(20,20,20,0.8)" stroke-width="1.25"/>
<polygon points="490.8,905.1 500.6,910.8 500.6,922.0 490.8,927.7 481.0,922.0 481.0,910.8" fill="rgba(220,220,220,0.8)" stroke="rgba(20,20,20,0.8)" stroke-width="1.25"/>
<polygon points="497.4,902.1 507.2,907.8 507.2,919.0 497.4,924.7 487.6,919.0 487.6,907.8" fill="rgba(220,220,220,0.8)" stroke="rgba(20,20,20,0.8)" stroke-width="1.25"/>
<polygon points="480.0,936.3 489.8,942.0 489.8,953.2 480.0,958.9 470.2,953.2 470.2,942.0" fill="rgba(220,220,220,0.8)" stroke="rgba(20,20,20,0.8)" stroke-width="1.25"/>
<polygon points="486.6,923.1 496.4,928.8 496.4,940.0 486.6,945.7 476.8,940.0 476.8,928.8" fill="rgba(220,220,220,0.8)" stroke="rgba(20,20,20,0.8)" stroke-width="1.25"/>
<polygon points="451.8,950.7 461.6,956.4 461.6,967.6 451.8,973.3 442.0,967.6 442.0,956.4" fill="rgba(220,220,220,0.8)" stroke="rgba(20,20,20,0.8)" stroke-width="1.25"/>
<rect x="439.4" y="905.9" width="23.2" height="23.2" fill="rgba(108,129,148,0.9)" stroke="rgba(10,16,22,0.9)" stroke-width="1.4"/>
<rect x="440.4" y="903.6" width="23.2" height="23.2" fill="rgba(108,129,148,0.9)" stroke="rgba(10,16,22,0.9)" stroke-width="1.4"/>
<rect x="445.9" y="932.9" width="23.2" height="23.2" fill="rgba(108,129,148,0.9)" stroke="rgba(10,16,22,0.9)" stroke-width="1.4"/>
<rect x="452.0" y="908.0" width="23.2" height="23.2" fill="rgba(108,129,148,0.9)" stroke="rgba(10,16,22,0.9)" stroke-width="1.4"/>
<rect x="440.4" y="931.4" width="23.2" height="23.2" fill="rgba(108,129,148,0.9)" stroke="rgba(10,16,22,0.9)" stroke-width="1.4"/>
<polygon points="490.5,947.5 498.1,962.3 482.9,962.3" fill="#000"/>
<polygon points="486.5,958.0 492.7,970.0 480.3,970.0" fill="#000"/>
<polygon points="474.0,947.4 478.2,960.4 491.9,960.4 480.8,968.4 485.1,981.4 474.0,973.4 462.9,981.4 467.2,968.4 456.1,960.4 469.8,960.4" fill="#f4e93c" stroke="#000" stroke-width="2.0" stroke-linejoin="miter"/>
<polygon points="545.8,933.0 550.0,946.0 563.7,946.0 552.6,954.0 556.9,967.0 545.8,959.0 534.7,967.0 539.0,954.0 527.9,946.0 541.6,946.0" fill="#ff4412" stroke="#000" stroke-width="2.0" stroke-linejoin="miter"/>
<polygon points="473.4,943.8 477.6,956.8 491.3,956.8 480.2,964.8 484.5,977.8 473.4,969.8 462.3,977.8 466.6,964.8 455.5,956.8 469.2,956.8" fill="#8667ff" stroke="#000" stroke-width="2.0" stroke-linejoin="miter"/>
</g>
<line x1="183.7" y1="1329.2" x2="183.7" y2="1321.0" stroke="#000" stroke-width="1.9"/>
<line x1="222.0" y1="1329.2" x2="222.0" y2="1325.9" stroke="#000" stroke-width="1.2"/>
<line x1="244.4" y1="1329.2" x2="244.4" y2="1325.9" stroke="#000" stroke-width="1.2"/>
<line x1="260.3" y1="1329.2" x2="260.3" y2="1325.9" stroke="#000" stroke-width="1.2"/>
<line x1="272.6" y1="1329.2" x2="272.6" y2="1325.9" stroke="#000" stroke-width="1.2"/>
<line x1="282.7" y1="1329.2" x2="282.7" y2="1325.9" stroke="#000" stroke-width="1.2"/>
<line x1="291.2" y1="1329.2" x2="291.2" y2="1325.9" stroke="#000" stroke-width="1.2"/>
<line x1="298.6" y1="1329.2" x2="298.6" y2="1325.9" stroke="#000" stroke-width="1.2"/>
<line x1="305.1" y1="1329.2" x2="305.1" y2="1325.9" stroke="#000" stroke-width="1.2"/>
<line x1="310.9" y1="1329.2" x2="310.9" y2="1321.0" stroke="#000" stroke-width="1.9"/>
<line x1="349.2" y1="1329.2" x2="349.2" y2="1325.9" stroke="#000" stroke-width="1.2"/>
<line x1="371.6" y1="1329.2" x2="371.6" y2="1325.9" stroke="#000" stroke-width="1.2"/>
<line x1="387.5" y1="1329.2" x2="387.5" y2="1325.9" stroke="#000" stroke-width="1.2"/>
<line x1="399.8" y1="1329.2" x2="399.8" y2="1325.9" stroke="#000" stroke-width="1.2"/>
<line x1="409.9" y1="1329.2" x2="409.9" y2="1325.9" stroke="#000" stroke-width="1.2"/>
<line x1="418.4" y1="1329.2" x2="418.4" y2="1325.9" stroke="#000" stroke-width="1.2"/>
<line x1="425.8" y1="1329.2" x2="425.8" y2="1325.9" stroke="#000" stroke-width="1.2"/>
<line x1="432.3" y1="1329.2" x2="432.3" y2="1325.9" stroke="#000" stroke-width="1.2"/>
<line x1="438.1" y1="1329.2" x2="438.1" y2="1321.0" stroke="#000" stroke-width="1.9"/>
<line x1="476.4" y1="1329.2" x2="476.4" y2="1325.9" stroke="#000" stroke-width="1.2"/>
<line x1="498.8" y1="1329.2" x2="498.8" y2="1325.9" stroke="#000" stroke-width="1.2"/>
<line x1="514.7" y1="1329.2" x2="514.7" y2="1325.9" stroke="#000" stroke-width="1.2"/>
<line x1="527.1" y1="1329.2" x2="527.1" y2="1325.9" stroke="#000" stroke-width="1.2"/>
<line x1="537.1" y1="1329.2" x2="537.1" y2="1325.9" stroke="#000" stroke-width="1.2"/>
<line x1="545.6" y1="1329.2" x2="545.6" y2="1325.9" stroke="#000" stroke-width="1.2"/>
<line x1="553.0" y1="1329.2" x2="553.0" y2="1325.9" stroke="#000" stroke-width="1.2"/>
<line x1="559.5" y1="1329.2" x2="559.5" y2="1325.9" stroke="#000" stroke-width="1.2"/>
<line x1="565.3" y1="1329.2" x2="565.3" y2="1321.0" stroke="#000" stroke-width="1.9"/>
<line x1="603.6" y1="1329.2" x2="603.6" y2="1325.9" stroke="#000" stroke-width="1.2"/>
<line x1="626.0" y1="1329.2" x2="626.0" y2="1325.9" stroke="#000" stroke-width="1.2"/>
<line x1="641.9" y1="1329.2" x2="641.9" y2="1325.9" stroke="#000" stroke-width="1.2"/>
<line x1="654.3" y1="1329.2" x2="654.3" y2="1325.9" stroke="#000" stroke-width="1.2"/>
<line x1="664.3" y1="1329.2" x2="664.3" y2="1325.9" stroke="#000" stroke-width="1.2"/>
<line x1="672.9" y1="1329.2" x2="672.9" y2="1325.9" stroke="#000" stroke-width="1.2"/>
<line x1="680.2" y1="1329.2" x2="680.2" y2="1325.9" stroke="#000" stroke-width="1.2"/>
<line x1="686.7" y1="1329.2" x2="686.7" y2="1325.9" stroke="#000" stroke-width="1.2"/>
<line x1="692.6" y1="1329.2" x2="692.6" y2="1321.0" stroke="#000" stroke-width="1.9"/>
<line x1="730.9" y1="1329.2" x2="730.9" y2="1325.9" stroke="#000" stroke-width="1.2"/>
<line x1="753.3" y1="1329.2" x2="753.3" y2="1325.9" stroke="#000" stroke-width="1.2"/>
<line x1="769.2" y1="1329.2" x2="769.2" y2="1325.9" stroke="#000" stroke-width="1.2"/>
<line x1="781.5" y1="1329.2" x2="781.5" y2="1325.9" stroke="#000" stroke-width="1.2"/>
<line x1="791.6" y1="1329.2" x2="791.6" y2="1325.9" stroke="#000" stroke-width="1.2"/>
<line x1="800.1" y1="1329.2" x2="800.1" y2="1325.9" stroke="#000" stroke-width="1.2"/>
<line x1="807.5" y1="1329.2" x2="807.5" y2="1325.9" stroke="#000" stroke-width="1.2"/>
<line x1="814.0" y1="1329.2" x2="814.0" y2="1325.9" stroke="#000" stroke-width="1.2"/>
<line x1="819.8" y1="1329.2" x2="819.8" y2="1321.0" stroke="#000" stroke-width="1.9"/>
<line x1="858.1" y1="1329.2" x2="858.1" y2="1325.9" stroke="#000" stroke-width="1.2"/>
<line x1="880.5" y1="1329.2" x2="880.5" y2="1325.9" stroke="#000" stroke-width="1.2"/>
<line x1="896.4" y1="1329.2" x2="896.4" y2="1325.9" stroke="#000" stroke-width="1.2"/>
<line x1="908.7" y1="1329.2" x2="908.7" y2="1325.9" stroke="#000" stroke-width="1.2"/>
<line x1="918.8" y1="1329.2" x2="918.8" y2="1325.9" stroke="#000" stroke-width="1.2"/>
<line x1="927.3" y1="1329.2" x2="927.3" y2="1325.9" stroke="#000" stroke-width="1.2"/>
<line x1="934.7" y1="1329.2" x2="934.7" y2="1325.9" stroke="#000" stroke-width="1.2"/>
<line x1="941.2" y1="1329.2" x2="941.2" y2="1325.9" stroke="#000" stroke-width="1.2"/>
<line x1="947.0" y1="1329.2" x2="947.0" y2="1321.0" stroke="#000" stroke-width="1.9"/>
<line x1="183.7" y1="1329.2" x2="191.9" y2="1329.2" stroke="#000" stroke-width="1.9"/>
<line x1="183.7" y1="1233.1" x2="186.7" y2="1233.1" stroke="#000" stroke-width="1.2"/>
<line x1="183.7" y1="1176.8" x2="186.7" y2="1176.8" stroke="#000" stroke-width="1.2"/>
<line x1="183.7" y1="1136.9" x2="186.7" y2="1136.9" stroke="#000" stroke-width="1.2"/>
<line x1="183.7" y1="1105.9" x2="186.7" y2="1105.9" stroke="#000" stroke-width="1.2"/>
<line x1="183.7" y1="1080.7" x2="186.7" y2="1080.7" stroke="#000" stroke-width="1.2"/>
<line x1="183.7" y1="1059.3" x2="186.7" y2="1059.3" stroke="#000" stroke-width="1.2"/>
<line x1="183.7" y1="1040.8" x2="186.7" y2="1040.8" stroke="#000" stroke-width="1.2"/>
<line x1="183.7" y1="1024.4" x2="186.7" y2="1024.4" stroke="#000" stroke-width="1.2"/>
<line x1="183.7" y1="1009.8" x2="188.9" y2="1009.8" stroke="#000" stroke-width="1.9"/>
<line x1="183.7" y1="913.7" x2="187.0" y2="913.7" stroke="#000" stroke-width="1.2"/>
<line x1="183.7" y1="857.4" x2="187.0" y2="857.4" stroke="#000" stroke-width="1.2"/>
<line x1="183.7" y1="817.5" x2="187.0" y2="817.5" stroke="#000" stroke-width="1.2"/>
<line x1="183.7" y1="786.5" x2="187.0" y2="786.5" stroke="#000" stroke-width="1.2"/>
<line x1="183.7" y1="761.3" x2="187.0" y2="761.3" stroke="#000" stroke-width="1.2"/>
<line x1="183.7" y1="739.9" x2="187.0" y2="739.9" stroke="#000" stroke-width="1.2"/>
<line x1="183.7" y1="721.4" x2="187.0" y2="721.4" stroke="#000" stroke-width="1.2"/>
<line x1="183.7" y1="705.0" x2="187.0" y2="705.0" stroke="#000" stroke-width="1.2"/>
<line x1="183.7" y1="690.4" x2="191.9" y2="690.4" stroke="#000" stroke-width="1.9"/>
<rect x="183.7" y="690.4" width="763.3" height="638.8" fill="none" stroke="#000" stroke-width="2.3"/>
</g>
<g id="panel-c">
<clipPath id="clip-c"><rect x="184.0" y="1370.8" width="760.9" height="596.6"/></clipPath>
<g clip-path="url(#clip-c)">
<line x1="400.0" y1="1582.5" x2="441.0" y2="1582.5" stroke="rgba(95,120,145,0.85)" stroke-width="1.4"/>
<line x1="428.0" y1="1584.5" x2="441.0" y2="1584.5" stroke="rgba(95,120,145,0.85)" stroke-width="1.2"/>
<line x1="448.0" y1="1545.0" x2="499.0" y2="1547.5" stroke="rgba(218,218,218,0.95)" stroke-width="1.8"/>
<line x1="448.0" y1="1550.0" x2="458.0" y2="1572.0" stroke="rgba(218,218,218,0.95)" stroke-width="1.8"/>
<line x1="500.0" y1="1557.0" x2="527.0" y2="1557.0" stroke="rgba(218,218,218,0.95)" stroke-width="1.8"/>
<circle cx="392.5" cy="1646.3" r="8.19" fill="rgba(190,190,190,0.5)" stroke="rgba(190,190,190,0.5)" stroke-width="1.2"/>
<circle cx="387.5" cy="1458.0" r="8.19" fill="rgba(215,125,95,0.45)" stroke="rgba(215,125,95,0.45)" stroke-width="1.2"/>
<circle cx="411.3" cy="1468.8" r="8.19" fill="rgba(215,125,95,0.45)" stroke="rgba(215,125,95,0.45)" stroke-width="1.2"/>
<circle cx="435.0" cy="1468.8" r="8.19" fill="rgba(215,125,95,0.45)" stroke="rgba(215,125,95,0.45)" stroke-width="1.2"/>
<circle cx="428.0" cy="1494.5" r="8.19" fill="rgba(215,125,95,0.45)" stroke="rgba(215,125,95,0.45)" stroke-width="1.2"/>
<circle cx="434.5" cy="1492.0" r="8.19" fill="rgba(215,125,95,0.45)" stroke="rgba(215,125,95,0.45)" stroke-width="1.2"/>
<circle cx="430.5" cy="1497.0" r="8.19" fill="rgba(215,125,95,0.45)" stroke="rgba(215,125,95,0.45)" stroke-width="1.2"/>
<circle cx="445.0" cy="1498.8" r="8.19" fill="rgba(215,125,95,0.45)" stroke="rgba(215,125,95,0.45)" stroke-width="1.2"/>
<circle cx="451.3" cy="1497.0" r="8.19" fill="rgba(215,125,95,0.45)" stroke="rgba(215,125,95,0.45)" stroke-width="1.2"/>
<circle cx="459.5" cy="1490.8" r="8.19" fill="rgba(215,125,95,0.45)" stroke="rgba(215,125,95,0.45)" stroke-width="1.2"/>
<circle cx="463.0" cy="1494.5" r="8.19" fill="rgba(215,125,95,0.45)" stroke="rgba(215,125,95,0.45)" stroke-width="1.2"/>
<circle cx="448.8" cy="1503.8" r="8.19" fill="rgba(215,125,95,0.45)" stroke="rgba(215,125,95,0.45)" stroke-width="1.2"/>
<circle cx="448.0" cy="1512.5" r="8.19" fill="rgba(215,125,95,0.45)" stroke="rgba(215,125,95,0.45)" stroke-width="1.2"/>
<circle cx="459.5" cy="1518.8" r="8.19" fill="rgba(215,125,95,0.45)" stroke="rgba(215,125,95,0.45)" stroke-width="1.2"/>
<circle cx="451.3" cy="1537.5" r="8.19" fill="rgba(215,125,95,0.45)" stroke="rgba(215,125,95,0.45)" stroke-width="1.2"/>
<circle cx="422.5" cy="1607.0" r="8.19" fill="rgba(215,125,95,0.45)" stroke="rgba(215,125,95,0.45)" stroke-width="1.2"/>
<circle cx="478.0" cy="1590.0" r="8.19" fill="rgba(215,125,95,0.45)" stroke="rgba(215,125,95,0.45)" stroke-width="1.2"/>
<circle cx="436.3" cy="1633.8" r="8.19" fill="rgba(175,185,70,0.545)" stroke="rgba(175,185,70,0.545)" stroke-width="1.2"/>
<circle cx="442.5" cy="1625.0" r="8.19" fill="rgba(175,185,70,0.545)" stroke="rgba(175,185,70,0.545)" stroke-width="1.2"/>
<circle cx="444.0" cy="1646.0" r="8.19" fill="rgba(175,185,70,0.545)" stroke="rgba(175,185,70,0.545)" stroke-width="1.2"/>
<circle cx="446.0" cy="1630.0" r="8.19" fill="rgba(95,125,70,0.56)" stroke="rgba(95,125,70,0.56)" stroke-width="1.2" opacity="0.6"/>
<circle cx="440.0" cy="1666.0" r="8.19" fill="rgba(140,110,225,0.53)" stroke="rgba(140,110,225,0.53)" stroke-width="1.2"/>
<circle cx="447.5" cy="1650.0" r="8.19" fill="rgba(140,110,225,0.53)" stroke="rgba(140,110,225,0.53)" stroke-width="1.2"/>
<circle cx="452.0" cy="1632.0" r="8.19" fill="rgba(140,110,225,0.53)" stroke="rgba(140,110,225,0.53)" stroke-width="1.2"/>
<polygon points="644.4,1653.2 652.2,1661.0 660.0,1653.2 667.8,1661.0 660.0,1668.8 667.8,1676.6 660.0,1684.4 652.2,1676.6 644.4,1684.4 636.6,1676.6 644.4,1668.8 636.6,1661.0" fill="#fff" stroke="#111" stroke-width="1.3" stroke-linejoin="miter"/>
<polygon points="646.4,1675.0 654.2,1682.8 662.0,1675.0 669.8,1682.8 662.0,1690.6 669.8,1698.4 662.0,1706.2 654.2,1698.4 646.4,1706.2 638.6,1698.4 646.4,1690.6 638.6,1682.8" fill="#fff" stroke="#111" stroke-width="1.3" stroke-linejoin="miter"/>
<polygon points="589.8,1715.6 597.6,1723.4 605.4,1715.6 613.2,1723.4 605.4,1731.2 613.2,1739.0 605.4,1746.8 597.6,1739.0 589.8,1746.8 582.0,1739.0 589.8,1731.2 582.0,1723.4" fill="#fff" stroke="#111" stroke-width="1.3" stroke-linejoin="miter"/>
<polygon points="616.8,1727.0 624.6,1734.8 632.4,1727.0 640.2,1734.8 632.4,1742.6 640.2,1750.4 632.4,1758.2 624.6,1750.4 616.8,1758.2 609.0,1750.4 616.8,1742.6 609.0,1734.8" fill="#fff" stroke="#111" stroke-width="1.3" stroke-linejoin="miter"/>
<polygon points="610.6,1811.8 618.4,1819.6 626.2,1811.8 634.0,1819.6 626.2,1827.4 634.0,1835.2 626.2,1843.0 618.4,1835.2 610.6,1843.0 602.8,1835.2 610.6,1827.4 602.8,1819.6" fill="#fff" stroke="#111" stroke-width="1.3" stroke-linejoin="miter"/>
<polygon points="680.2,1473.8 688.0,1481.6 695.8,1473.8 703.6,1481.6 695.8,1489.4 703.6,1497.2 695.8,1505.0 688.0,1497.2 680.2,1505.0 672.4,1497.2 680.2,1489.4 672.4,1481.6" fill="#a9a9a9" stroke="#111" stroke-width="1.3" stroke-linejoin="miter"/>
<polygon points="804.0,1539.8 811.8,1547.6 819.6,1539.8 827.4,1547.6 819.6,1555.4 827.4,1563.2 819.6,1571.0 811.8,1563.2 804.0,1571.0 796.2,1563.2 804.0,1555.4 796.2,1547.6" fill="#a9a9a9" stroke="#111" stroke-width="1.3" stroke-linejoin="miter"/>
<polygon points="519.6,1642.8 527.4,1650.6 535.2,1642.8 543.0,1650.6 535.2,1658.4 543.0,1666.2 535.2,1674.0 527.4,1666.2 519.6,1674.0 511.8,1666.2 519.6,1658.4 511.8,1650.6" fill="#a9a9a9" stroke="#111" stroke-width="1.3" stroke-linejoin="miter"/>
<polygon points="668.8,1649.0 676.6,1656.8 684.4,1649.0 692.2,1656.8 684.4,1664.6 692.2,1672.4 684.4,1680.2 676.6,1672.4 668.8,1680.2 661.0,1672.4 668.8,1664.6 661.0,1656.8" fill="#a9a9a9" stroke="#111" stroke-width="1.3" stroke-linejoin="miter"/>
<polygon points="619.4,1670.4 627.2,1678.2 635.0,1670.4 642.8,1678.2 635.0,1686.0 642.8,1693.8 635.0,1701.6 627.2,1693.8 619.4,1701.6 611.6,1693.8 619.4,1686.0 611.6,1678.2" fill="#a9a9a9" stroke="#111" stroke-width="1.3" stroke-linejoin="miter"/>
<polygon points="706.2,1723.4 714.0,1731.2 721.8,1723.4 729.6,1731.2 721.8,1739.0 729.6,1746.8 721.8,1754.6 714.0,1746.8 706.2,1754.6 698.4,1746.8 706.2,1739.0 698.4,1731.2" fill="#a9a9a9" stroke="#111" stroke-width="1.3" stroke-linejoin="miter"/>
<polygon points="560.6,1767.6 568.4,1775.4 576.2,1767.6 584.0,1775.4 576.2,1783.2 584.0,1791.0 576.2,1798.8 568.4,1791.0 560.6,1798.8 552.8,1791.0 560.6,1783.2 552.8,1775.4" fill="#a9a9a9" stroke="#111" stroke-width="1.3" stroke-linejoin="miter"/>
<polygon points="607.4,1768.6 615.2,1776.4 623.0,1768.6 630.8,1776.4 623.0,1784.2 630.8,1792.0 623.0,1799.8 615.2,1792.0 607.4,1799.8 599.6,1792.0 607.4,1784.2 599.6,1776.4" fill="#a9a9a9" stroke="#111" stroke-width="1.3" stroke-linejoin="miter"/>
<polygon points="685.4,1796.2 693.2,1804.0 701.0,1796.2 708.8,1804.0 701.0,1811.8 708.8,1819.6 701.0,1827.4 693.2,1819.6 685.4,1827.4 677.6,1819.6 685.4,1811.8 677.6,1804.0" fill="#a9a9a9" stroke="#111" stroke-width="1.3" stroke-linejoin="miter"/>
<polygon points="917.4,1656.8 925.2,1664.6 933.0,1656.8 940.8,1664.6 933.0,1672.4 940.8,1680.2 933.0,1688.0 925.2,1680.2 917.4,1688.0 909.6,1680.2 917.4,1672.4 909.6,1664.6" fill="#a9a9a9" stroke="#111" stroke-width="1.3" stroke-linejoin="miter"/>
<circle cx="595.0" cy="1587.3" r="11.19" fill="#fff" stroke="#000" stroke-width="1.68"/>
<circle cx="487.5" cy="1648.8" r="11.19" fill="#fff" stroke="#000" stroke-width="1.68"/>
<circle cx="483.8" cy="1670.0" r="11.19" fill="#fff" stroke="#000" stroke-width="1.68"/>
<circle cx="476.3" cy="1683.8" r="11.19" fill="#fff" stroke="#000" stroke-width="1.68"/>
<circle cx="485.0" cy="1677.5" r="11.19" fill="#fff" stroke="#000" stroke-width="1.68"/>
<circle cx="606.4" cy="1868.0" r="11.19" fill="#fff" stroke="#000" stroke-width="1.68"/>
<circle cx="481.6" cy="1888.2" r="11.19" fill="#fff" stroke="#000" stroke-width="1.68"/>
<circle cx="535.0" cy="1531.3" r="11.19" fill="#6e6e6e" stroke="#000" stroke-width="1.68"/>
<circle cx="480.9" cy="1565.5" r="11.19" fill="#6e6e6e" stroke="#000" stroke-width="1.68"/>
<circle cx="446.5" cy="1571.5" r="11.19" fill="#6e6e6e" stroke="#000" stroke-width="1.68"/>
<circle cx="444.5" cy="1596.5" r="11.19" fill="#6e6e6e" stroke="#000" stroke-width="1.68"/>
<circle cx="397.0" cy="1618.8" r="11.19" fill="#6e6e6e" stroke="#000" stroke-width="1.68"/>
<circle cx="483.8" cy="1617.5" r="11.19" fill="#6e6e6e" stroke="#000" stroke-width="1.68"/>
<circle cx="482.0" cy="1637.5" r="11.19" fill="#6e6e6e" stroke="#000" stroke-width="1.68"/>
<circle cx="455.0" cy="1643.8" r="11.19" fill="#6e6e6e" stroke="#000" stroke-width="1.68"/>
<circle cx="453.8" cy="1655.0" r="11.19" fill="#6e6e6e" stroke="#000" stroke-width="1.68"/>
<circle cx="471.3" cy="1666.3" r="11.19" fill="#6e6e6e" stroke="#000" stroke-width="1.68"/>
<circle cx="462.0" cy="1661.3" r="11.19" fill="#6e6e6e" stroke="#000" stroke-width="1.68"/>
<circle cx="446.3" cy="1672.5" r="11.19" fill="#6e6e6e" stroke="#000" stroke-width="1.68"/>
<circle cx="447.5" cy="1691.3" r="11.19" fill="#6e6e6e" stroke="#000" stroke-width="1.68"/>
<circle cx="433.8" cy="1686.3" r="11.19" fill="#6e6e6e" stroke="#000" stroke-width="1.68"/>
<circle cx="457.0" cy="1679.5" r="11.19" fill="#6e6e6e" stroke="#000" stroke-width="1.68"/>
<circle cx="417.5" cy="1715.0" r="11.19" fill="#6e6e6e" stroke="#000" stroke-width="1.68"/>
<circle cx="425.8" cy="1740.8" r="11.19" fill="#6e6e6e" stroke="#000" stroke-width="1.68"/>
<circle cx="466.3" cy="1763.8" r="11.19" fill="#6e6e6e" stroke="#000" stroke-width="1.68"/>
<circle cx="417.5" cy="1773.0" r="11.19" fill="#6e6e6e" stroke="#000" stroke-width="1.68"/>
<polygon points="470.0,1569.7 479.8,1576.8 476.0,1588.3 464.0,1588.3 460.2,1576.8" fill="rgba(165,165,165,0.78)" stroke="rgba(15,15,15,0.9)" stroke-width="1.25"/>
<polygon points="478.0,1561.7 487.8,1568.8 484.0,1580.3 472.0,1580.3 468.2,1568.8" fill="rgba(165,165,165,0.78)" stroke="rgba(15,15,15,0.9)" stroke-width="1.25"/>
<polygon points="447.7,1535.1 456.6,1540.3 456.6,1550.5 447.7,1555.7 438.8,1550.5 438.8,1540.3" fill="rgba(220,220,220,0.8)" stroke="rgba(20,20,20,0.8)" stroke-width="1.25"/>
<polygon points="488.0,1555.2 496.9,1560.4 496.9,1570.6 488.0,1575.8 479.1,1570.6 479.1,1560.4" fill="rgba(220,220,220,0.8)" stroke="rgba(20,20,20,0.8)" stroke-width="1.25"/>
<polygon points="493.2,1552.7 502.1,1557.9 502.1,1568.1 493.2,1573.3 484.3,1568.1 484.3,1557.9" fill="rgba(220,220,220,0.8)" stroke="rgba(20,20,20,0.8)" stroke-width="1.25"/>
<polygon points="499.0,1537.7 507.9,1542.9 507.9,1553.1 499.0,1558.3 490.1,1553.1 490.1,1542.9" fill="rgba(220,220,220,0.8)" stroke="rgba(20,20,20,0.8)" stroke-width="1.25"/>
<polygon points="510.1,1546.7 519.0,1551.9 519.0,1562.1 510.1,1567.3 501.2,1562.1 501.2,1551.9" fill="rgba(220,220,220,0.8)" stroke="rgba(20,20,20,0.8)" stroke-width="1.25"/>
<polygon points="498.4,1561.1 507.3,1566.3 507.3,1576.5 498.4,1581.7 489.5,1576.5 489.5,1566.3" fill="rgba(220,220,220,0.8)" stroke="rgba(20,20,20,0.8)" stroke-width="1.25"/>
<polygon points="489.3,1570.7 498.2,1575.9 498.2,1586.1 489.3,1591.3 480.4,1586.1 480.4,1575.9" fill="rgba(220,220,220,0.8)" stroke="rgba(20,20,20,0.8)" stroke-width="1.25"/>
<polygon points="495.8,1568.9 504.7,1574.1 504.7,1584.3 495.8,1589.5 486.9,1584.3 486.9,1574.1" fill="rgba(220,220,220,0.8)" stroke="rgba(20,20,20,0.8)" stroke-width="1.25"/>
<polygon points="486.7,1587.7 495.6,1592.9 495.6,1603.1 486.7,1608.3 477.8,1603.1 477.8,1592.9" fill="rgba(220,220,220,0.8)" stroke="rgba(20,20,20,0.8)" stroke-width="1.25"/>
<polygon points="465.0,1589.2 473.9,1594.4 473.9,1604.6 465.0,1609.8 456.1,1604.6 456.1,1594.4" fill="rgba(220,220,220,0.8)" stroke="rgba(20,20,20,0.8)" stroke-width="1.25"/>
<polygon points="452.9,1612.4 461.8,1617.6 461.8,1627.8 452.9,1633.0 444.0,1627.8 444.0,1617.6" fill="rgba(220,220,220,0.8)" stroke="rgba(20,20,20,0.8)" stroke-width="1.25"/>
<rect x="439.8" y="1569.4" width="21.11" height="21.11" fill="rgba(108,129,148,0.9)" stroke="rgba(10,16,22,0.9)" stroke-width="1.4"/>
<rect x="440.4" y="1572.4" width="21.11" height="21.11" fill="rgba(108,129,148,0.9)" stroke="rgba(10,16,22,0.9)" stroke-width="1.4"/>
<rect x="451.7" y="1574.0" width="21.11" height="21.11" fill="rgba(108,129,148,0.9)" stroke="rgba(10,16,22,0.9)" stroke-width="1.4"/>
<rect x="441.2" y="1598.9" width="21.11" height="21.11" fill="rgba(108,129,148,0.9)" stroke="rgba(10,16,22,0.9)" stroke-width="1.4"/>
<rect x="440.6" y="1596.2" width="21.11" height="21.11" fill="rgba(108,129,148,0.9)" stroke="rgba(10,16,22,0.9)" stroke-width="1.4"/>
<rect x="460.5" y="1618.4" width="21.11" height="21.11" fill="rgba(108,129,148,0.9)" stroke="rgba(10,16,22,0.9)" stroke-width="1.4"/>
<polygon points="471.8,1600.9 475.6,1612.7 488.1,1612.7 478.0,1620.0 481.9,1631.8 471.8,1624.5 461.7,1631.8 465.6,1620.0 455.5,1612.7 468.0,1612.7" fill="#f4e93c" stroke="#000" stroke-width="2.0" stroke-linejoin="miter"/>
<polygon points="544.4,1605.4 548.2,1617.2 560.7,1617.2 550.6,1624.5 554.5,1636.3 544.4,1629.0 534.3,1636.3 538.2,1624.5 528.1,1617.2 540.6,1617.2" fill="#ff4412" stroke="#000" stroke-width="2.0" stroke-linejoin="miter"/>
<polygon points="472.2,1586.1 476.0,1597.9 488.5,1597.9 478.4,1605.2 482.3,1617.0 472.2,1609.7 462.1,1617.0 466.0,1605.2 455.9,1597.9 468.4,1597.9" fill="#8667ff" stroke="#000" stroke-width="2.0" stroke-linejoin="miter"/>
</g>
<line x1="184.0" y1="1967.4" x2="184.0" y2="1959.8" stroke="#000" stroke-width="1.5"/>
<line x1="222.2" y1="1967.4" x2="222.2" y2="1964.2" stroke="#000" stroke-width="1.1"/>
<line x1="244.5" y1="1967.4" x2="244.5" y2="1964.2" stroke="#000" stroke-width="1.1"/>
<line x1="260.4" y1="1967.4" x2="260.4" y2="1964.2" stroke="#000" stroke-width="1.1"/>
<line x1="272.6" y1="1967.4" x2="272.6" y2="1964.2" stroke="#000" stroke-width="1.1"/>
<line x1="282.7" y1="1967.4" x2="282.7" y2="1964.2" stroke="#000" stroke-width="1.1"/>
<line x1="291.2" y1="1967.4" x2="291.2" y2="1964.2" stroke="#000" stroke-width="1.1"/>
<line x1="298.5" y1="1967.4" x2="298.5" y2="1964.2" stroke="#000" stroke-width="1.1"/>
<line x1="305.0" y1="1967.4" x2="305.0" y2="1964.2" stroke="#000" stroke-width="1.1"/>
<line x1="310.8" y1="1967.4" x2="310.8" y2="1959.8" stroke="#000" stroke-width="1.5"/>
<line x1="349.0" y1="1967.4" x2="349.0" y2="1964.2" stroke="#000" stroke-width="1.1"/>
<line x1="371.3" y1="1967.4" x2="371.3" y2="1964.2" stroke="#000" stroke-width="1.1"/>
<line x1="387.2" y1="1967.4" x2="387.2" y2="1964.2" stroke="#000" stroke-width="1.1"/>
<line x1="399.5" y1="1967.4" x2="399.5" y2="1964.2" stroke="#000" stroke-width="1.1"/>
<line x1="409.5" y1="1967.4" x2="409.5" y2="1964.2" stroke="#000" stroke-width="1.1"/>
<line x1="418.0" y1="1967.4" x2="418.0" y2="1964.2" stroke="#000" stroke-width="1.1"/>
<line x1="425.3" y1="1967.4" x2="425.3" y2="1964.2" stroke="#000" stroke-width="1.1"/>
<line x1="431.8" y1="1967.4" x2="431.8" y2="1964.2" stroke="#000" stroke-width="1.1"/>
<line x1="437.6" y1="1967.4" x2="437.6" y2="1959.8" stroke="#000" stroke-width="1.5"/>
<line x1="475.8" y1="1967.4" x2="475.8" y2="1964.2" stroke="#000" stroke-width="1.1"/>
<line x1="498.1" y1="1967.4" x2="498.1" y2="1964.2" stroke="#000" stroke-width="1.1"/>
<line x1="514.0" y1="1967.4" x2="514.0" y2="1964.2" stroke="#000" stroke-width="1.1"/>
<line x1="526.3" y1="1967.4" x2="526.3" y2="1964.2" stroke="#000" stroke-width="1.1"/>
<line x1="536.3" y1="1967.4" x2="536.3" y2="1964.2" stroke="#000" stroke-width="1.1"/>
<line x1="544.8" y1="1967.4" x2="544.8" y2="1964.2" stroke="#000" stroke-width="1.1"/>
<line x1="552.2" y1="1967.4" x2="552.2" y2="1964.2" stroke="#000" stroke-width="1.1"/>
<line x1="558.6" y1="1967.4" x2="558.6" y2="1964.2" stroke="#000" stroke-width="1.1"/>
<line x1="564.5" y1="1967.4" x2="564.5" y2="1959.8" stroke="#000" stroke-width="1.5"/>
<line x1="602.6" y1="1967.4" x2="602.6" y2="1964.2" stroke="#000" stroke-width="1.1"/>
<line x1="625.0" y1="1967.4" x2="625.0" y2="1964.2" stroke="#000" stroke-width="1.1"/>
<line x1="640.8" y1="1967.4" x2="640.8" y2="1964.2" stroke="#000" stroke-width="1.1"/>
<line x1="653.1" y1="1967.4" x2="653.1" y2="1964.2" stroke="#000" stroke-width="1.1"/>
<line x1="663.1" y1="1967.4" x2="663.1" y2="1964.2" stroke="#000" stroke-width="1.1"/>
<line x1="671.6" y1="1967.4" x2="671.6" y2="1964.2" stroke="#000" stroke-width="1.1"/>
<line x1="679.0" y1="1967.4" x2="679.0" y2="1964.2" stroke="#000" stroke-width="1.1"/>
<line x1="685.5" y1="1967.4" x2="685.5" y2="1964.2" stroke="#000" stroke-width="1.1"/>
<line x1="691.3" y1="1967.4" x2="691.3" y2="1959.8" stroke="#000" stroke-width="1.5"/>
<line x1="729.4" y1="1967.4" x2="729.4" y2="1964.2" stroke="#000" stroke-width="1.1"/>
<line x1="751.8" y1="1967.4" x2="751.8" y2="1964.2" stroke="#000" stroke-width="1.1"/>
<line x1="767.6" y1="1967.4" x2="767.6" y2="1964.2" stroke="#000" stroke-width="1.1"/>
<line x1="779.9" y1="1967.4" x2="779.9" y2="1964.2" stroke="#000" stroke-width="1.1"/>
<line x1="789.9" y1="1967.4" x2="789.9" y2="1964.2" stroke="#000" stroke-width="1.1"/>
<line x1="798.4" y1="1967.4" x2="798.4" y2="1964.2" stroke="#000" stroke-width="1.1"/>
<line x1="805.8" y1="1967.4" x2="805.8" y2="1964.2" stroke="#000" stroke-width="1.1"/>
<line x1="812.3" y1="1967.4" x2="812.3" y2="1964.2" stroke="#000" stroke-width="1.1"/>
<line x1="818.1" y1="1967.4" x2="818.1" y2="1959.8" stroke="#000" stroke-width="1.5"/>
<line x1="856.3" y1="1967.4" x2="856.3" y2="1964.2" stroke="#000" stroke-width="1.1"/>
<line x1="878.6" y1="1967.4" x2="878.6" y2="1964.2" stroke="#000" stroke-width="1.1"/>
<line x1="894.4" y1="1967.4" x2="894.4" y2="1964.2" stroke="#000" stroke-width="1.1"/>
<line x1="906.7" y1="1967.4" x2="906.7" y2="1964.2" stroke="#000" stroke-width="1.1"/>
<line x1="916.8" y1="1967.4" x2="916.8" y2="1964.2" stroke="#000" stroke-width="1.1"/>
<line x1="925.3" y1="1967.4" x2="925.3" y2="1964.2" stroke="#000" stroke-width="1.1"/>
<line x1="932.6" y1="1967.4" x2="932.6" y2="1964.2" stroke="#000" stroke-width="1.1"/>
<line x1="939.1" y1="1967.4" x2="939.1" y2="1964.2" stroke="#000" stroke-width="1.1"/>
<line x1="944.9" y1="1967.4" x2="944.9" y2="1959.8" stroke="#000" stroke-width="1.5"/>
<line x1="184.0" y1="1967.4" x2="191.6" y2="1967.4" stroke="#000" stroke-width="1.5"/>
<line x1="184.0" y1="1877.6" x2="187.2" y2="1877.6" stroke="#000" stroke-width="1.1"/>
<line x1="184.0" y1="1825.1" x2="187.2" y2="1825.1" stroke="#000" stroke-width="1.1"/>
<line x1="184.0" y1="1787.8" x2="187.2" y2="1787.8" stroke="#000" stroke-width="1.1"/>
<line x1="184.0" y1="1758.9" x2="187.2" y2="1758.9" stroke="#000" stroke-width="1.1"/>
<line x1="184.0" y1="1735.3" x2="187.2" y2="1735.3" stroke="#000" stroke-width="1.1"/>
<line x1="184.0" y1="1715.3" x2="187.2" y2="1715.3" stroke="#000" stroke-width="1.1"/>
<line x1="184.0" y1="1698.0" x2="187.2" y2="1698.0" stroke="#000" stroke-width="1.1"/>
<line x1="184.0" y1="1682.7" x2="187.2" y2="1682.7" stroke="#000" stroke-width="1.1"/>
<line x1="184.0" y1="1669.1" x2="191.6" y2="1669.1" stroke="#000" stroke-width="1.5"/>
<line x1="184.0" y1="1579.3" x2="187.2" y2="1579.3" stroke="#000" stroke-width="1.1"/>
<line x1="184.0" y1="1526.8" x2="187.2" y2="1526.8" stroke="#000" stroke-width="1.1"/>
<line x1="184.0" y1="1489.5" x2="187.2" y2="1489.5" stroke="#000" stroke-width="1.1"/>
<line x1="184.0" y1="1460.6" x2="187.2" y2="1460.6" stroke="#000" stroke-width="1.1"/>
<line x1="184.0" y1="1437.0" x2="187.2" y2="1437.0" stroke="#000" stroke-width="1.1"/>
<line x1="184.0" y1="1417.0" x2="187.2" y2="1417.0" stroke="#000" stroke-width="1.1"/>
<line x1="184.0" y1="1399.7" x2="187.2" y2="1399.7" stroke="#000" stroke-width="1.1"/>
<line x1="184.0" y1="1384.4" x2="187.2" y2="1384.4" stroke="#000" stroke-width="1.1"/>
<line x1="184.0" y1="1370.8" x2="191.6" y2="1370.8" stroke="#000" stroke-width="1.5"/>
<rect x="184.0" y="1370.8" width="760.9" height="596.6" fill="none" stroke="#000" stroke-width="2.3"/>
</g>
<text x="169.5" y="32.4" text-anchor="end" font-size="42" font-family="Liberation Sans, sans-serif" fill="#000" stroke="#000" stroke-width="0.3">10000</text>
<text x="169.5" y="137.1" text-anchor="end" font-size="42" font-family="Liberation Sans, sans-serif" fill="#000" stroke="#000" stroke-width="0.3">1000</text>
<text x="169.5" y="241.7" text-anchor="end" font-size="42" font-family="Liberation Sans, sans-serif" fill="#000" stroke="#000" stroke-width="0.3">100</text>
<text x="169.5" y="346.4" text-anchor="end" font-size="42" font-family="Liberation Sans, sans-serif" fill="#000" stroke="#000" stroke-width="0.3">10</text>
<text x="169.5" y="451.1" text-anchor="end" font-size="42" font-family="Liberation Sans, sans-serif" fill="#000" stroke="#000" stroke-width="0.3">1</text>
<text x="169.5" y="555.7" text-anchor="end" font-size="42" font-family="Liberation Sans, sans-serif" fill="#000" stroke="#000" stroke-width="0.3">0.10</text>
<text x="169.5" y="660.4" text-anchor="end" font-size="42" font-family="Liberation Sans, sans-serif" fill="#000" stroke="#000" stroke-width="0.3">0.01</text>
<text x="169.5" y="705.6" text-anchor="end" font-size="42" font-family="Liberation Sans, sans-serif" fill="#000" stroke="#000" stroke-width="0.3">10</text>
<text x="169.5" y="1025.0" text-anchor="end" font-size="42" font-family="Liberation Sans, sans-serif" fill="#000" stroke="#000" stroke-width="0.3">1</text>
<text x="169.5" y="1344.4" text-anchor="end" font-size="42" font-family="Liberation Sans, sans-serif" fill="#000" stroke="#000" stroke-width="0.3">0.10</text>
<text x="169.5" y="1385.4" text-anchor="end" font-size="38.8" font-family="Liberation Sans, sans-serif" fill="#000" stroke="#000" stroke-width="0.3">10</text>
<text x="169.5" y="1683.7" text-anchor="end" font-size="38.8" font-family="Liberation Sans, sans-serif" fill="#000" stroke="#000" stroke-width="0.3">1</text>
<text x="169.5" y="1982.0" text-anchor="end" font-size="38.8" font-family="Liberation Sans, sans-serif" fill="#000" stroke="#000" stroke-width="0.3">0.10</text>
<text x="183.7" y="2009.3" text-anchor="middle" font-size="38" font-family="Liberation Sans, sans-serif" fill="#000" stroke="#000" stroke-width="0.25">0.01</text>
<text x="310.5" y="2009.3" text-anchor="middle" font-size="38" font-family="Liberation Sans, sans-serif" fill="#000" stroke="#000" stroke-width="0.25">0.10</text>
<text x="437.3" y="2009.3" text-anchor="middle" font-size="38" font-family="Liberation Sans, sans-serif" fill="#000" stroke="#000" stroke-width="0.25">1</text>
<text x="564.2" y="2009.3" text-anchor="middle" font-size="38" font-family="Liberation Sans, sans-serif" fill="#000" stroke="#000" stroke-width="0.25">10</text>
<text x="691.0" y="2009.3" text-anchor="middle" font-size="38" font-family="Liberation Sans, sans-serif" fill="#000" stroke="#000" stroke-width="0.25">100</text>
<text x="817.8" y="2009.3" text-anchor="middle" font-size="38" font-family="Liberation Sans, sans-serif" fill="#000" stroke="#000" stroke-width="0.25">1000</text>
<text x="944.6" y="2009.3" text-anchor="middle" font-size="38" font-family="Liberation Sans, sans-serif" fill="#000" stroke="#000" stroke-width="0.25">10000</text>
<text x="564.5" y="2052.6" text-anchor="middle" font-size="43.3" font-family="Liberation Sans, sans-serif" fill="#000" stroke="#000" stroke-width="0.4">Pt/Ir</text>
<text transform="translate(37.2,332) rotate(-90)" text-anchor="middle" font-size="47.8" font-family="Liberation Sans, sans-serif" fill="#000" stroke="#000" stroke-width="0.4">Pd/Ir</text>
<text transform="translate(72.3,1010) rotate(-90)" text-anchor="middle" font-size="47" font-family="Liberation Sans, sans-serif" fill="#000" stroke="#000" stroke-width="0.4">Ru/Ir</text>
<text transform="translate(82,1669.8) rotate(-90)" text-anchor="middle" font-size="43.5" font-family="Liberation Sans, sans-serif" fill="#000" stroke="#000" stroke-width="0.4">Os/Ir</text>
<text x="192.2" y="56.6" font-size="43" font-weight="bold" font-family="Liberation Sans, sans-serif" fill="#000" stroke="#000" stroke-width="0.9">a</text>
<text x="196.3" y="734.6" font-size="43" font-weight="bold" font-family="Liberation Sans, sans-serif" fill="#000" stroke="#000" stroke-width="0.9">b</text>
<text x="196.8" y="1411.6" font-size="43" font-weight="bold" font-family="Liberation Sans, sans-serif" fill="#000" stroke="#000" stroke-width="0.9">c</text>
<line x1="193.0" y1="1013.6" x2="233.5" y2="1013.6" stroke="rgba(120,120,120,0.85)" stroke-width="1.4"/>
<circle cx="214.0" cy="1013.6" r="9.5" fill="rgba(140,140,140,0.8)" stroke="#1c1c1c" stroke-width="1.6"/>
<line x1="214.0" y1="1005.0" x2="214.0" y2="1022.2" stroke="rgba(100,100,100,0.45)" stroke-width="1.3"/>
<line x1="205.5" y1="1013.6" x2="222.5" y2="1013.6" stroke="rgba(100,100,100,0.45)" stroke-width="1.3"/>
<text x="249.5" y="1020" font-size="19.5" font-family="Liberation Sans, sans-serif" fill="#000">Apollo 14 IMB</text>
<line x1="193.0" y1="1040.8" x2="233.5" y2="1040.8" stroke="rgba(150,150,150,0.85)" stroke-width="1.4"/>
<polygon points="214.0,1032.2 223.1,1038.8 219.6,1049.6 208.4,1049.6 204.9,1038.8" fill="rgba(165,165,165,0.8)" stroke="#1c1c1c" stroke-width="1.6"/>
<line x1="214.0" y1="1033.0" x2="214.0" y2="1049.0" stroke="rgba(120,120,120,0.35)" stroke-width="1.3"/>
<line x1="206.0" y1="1040.8" x2="222.0" y2="1040.8" stroke="rgba(120,120,120,0.35)" stroke-width="1.3"/>
<text x="249.5" y="1048" font-size="19.5" font-family="Liberation Sans, sans-serif" fill="#000">Apollo 15 IMB</text>
<line x1="193.0" y1="1068.2" x2="233.5" y2="1068.2" stroke="rgba(200,200,200,0.9)" stroke-width="1.4"/>
<polygon points="214.0,1058.7 222.4,1063.6 222.4,1073.2 214.0,1078.1 205.6,1073.2 205.6,1063.6" fill="rgba(215,215,215,0.85)" stroke="#1c1c1c" stroke-width="1.6"/>
<line x1="214.0" y1="1060.0" x2="214.0" y2="1077.0" stroke="rgba(190,190,190,0.4)" stroke-width="1.3"/>
<text x="249.5" y="1075" font-size="19.5" font-family="Liberation Sans, sans-serif" fill="#000">Apollo 16 IMB</text>
<line x1="193.0" y1="1097.0" x2="233.5" y2="1097.0" stroke="rgba(95,120,145,0.9)" stroke-width="1.5"/>
<line x1="214.0" y1="1085.5" x2="214.0" y2="1090.0" stroke="rgba(95,120,145,0.9)" stroke-width="1.3"/>
<rect x="204.8" y="1088.2" width="18.4" height="18.4" fill="rgba(128,146,163,0.9)" stroke="#16202a" stroke-width="1.6"/>
<line x1="214.0" y1="1089.0" x2="214.0" y2="1106.0" stroke="rgba(80,105,130,0.45)" stroke-width="1.3"/>
<line x1="205.5" y1="1097.0" x2="222.5" y2="1097.0" stroke="rgba(80,105,130,0.45)" stroke-width="1.3"/>
<text x="249.5" y="1104" font-size="19.5" font-family="Liberation Sans, sans-serif" fill="#000">Apollo 17 IMB</text>
<clipPath id="clip-leg"><rect x="200" y="1100" width="312.8" height="230"/></clipPath>
<g clip-path="url(#clip-leg)">
<circle cx="216.0" cy="1130.1" r="8.1" fill="rgba(190,190,190,0.5)" stroke="rgba(190,190,190,0.5)" stroke-width="1.2"/>
<text x="254" y="1136.4" font-size="20.9" font-family="Liberation Sans, sans-serif" fill="#000">Carbonaceous Chondrites</text>
<circle cx="216.0" cy="1159.7" r="8.1" fill="rgba(160,70,140,0.52)" stroke="rgba(160,70,140,0.52)" stroke-width="1.2"/>
<text x="254" y="1166.0" font-size="20.9" font-family="Liberation Sans, sans-serif" fill="#000">Ordinary Chondrites</text>
<circle cx="216.0" cy="1189.4" r="8.1" fill="rgba(90,130,180,0.5)" stroke="rgba(90,130,180,0.5)" stroke-width="1.2"/>
<text x="254" y="1195.7" font-size="20.9" font-family="Liberation Sans, sans-serif" fill="#000">Rumuruti Chondrites</text>
<circle cx="216.0" cy="1219.4" r="8.1" fill="rgba(95,125,70,0.56)" stroke="rgba(95,125,70,0.56)" stroke-width="1.2"/>
<text x="254" y="1225.7" font-size="20.9" font-family="Liberation Sans, sans-serif" fill="#000">Enstatite Chondrites</text>
<circle cx="216.0" cy="1249.1" r="8.1" fill="rgba(175,185,70,0.545)" stroke="rgba(175,185,70,0.545)" stroke-width="1.2"/>
<text x="254" y="1255.4" font-size="20.9" font-family="Liberation Sans, sans-serif" fill="#000">Acapulcoites and Lodranites</text>
<circle cx="216.0" cy="1279.1" r="8.1" fill="rgba(215,125,95,0.45)" stroke="rgba(215,125,95,0.45)" stroke-width="1.2"/>
<text x="254" y="1285.4" font-size="20.9" font-family="Liberation Sans, sans-serif" fill="#000">Brachinites</text>
<circle cx="216.0" cy="1308.3" r="8.1" fill="rgba(140,110,225,0.53)" stroke="rgba(140,110,225,0.53)" stroke-width="1.2"/>
<text x="254" y="1314.6" font-size="20.9" font-family="Liberation Sans, sans-serif" fill="#000">Ureilites</text>
</g>
<line x1="555.0" y1="1316.5" x2="559.5" y2="1316.5" stroke="#444" stroke-width="1.2"/>
<polygon points="557.6,1097.4 567.9,1117.4 547.3,1117.4" fill="#000"/>
<text x="590.5" y="1112.5" font-size="18" font-family="Liberation Sans, sans-serif" fill="#000">Regolith Breccia Meteorites</text>
<polygon points="551.1,1119.1 557.6,1125.5 564.1,1119.1 570.5,1125.5 564.1,1132.0 570.5,1138.5 564.1,1144.9 557.6,1138.5 551.1,1144.9 544.7,1138.5 551.1,1132.0 544.7,1125.5" fill="#fff" stroke="#111" stroke-width="1.5" stroke-linejoin="miter"/>
<text x="590.5" y="1138.5" font-size="18" font-family="Liberation Sans, sans-serif" fill="#000">Terrestrial PGE Deposits</text>
<polygon points="551.1,1145.3 557.6,1151.8 564.1,1145.3 570.5,1151.8 564.1,1158.2 570.5,1164.7 564.1,1171.1 557.6,1164.7 551.1,1171.1 544.7,1164.7 551.1,1158.2 544.7,1151.8" fill="#a9a9a9" stroke="#111" stroke-width="1.5" stroke-linejoin="miter"/>
<text x="590.5" y="1163.5" font-size="18" font-family="Liberation Sans, sans-serif" fill="#000">Terrestrial Ni-Cu-PGE Deposits</text>
<circle cx="557.6" cy="1189.8" r="9.3" fill="#fff" stroke="#000" stroke-width="2.0"/>
<text x="590.5" y="1194.8" font-size="18" font-family="Liberation Sans, sans-serif" fill="#000">McIntosh et al.<tspan dx="1.5" dy="-6" font-size="12.8">22</tspan><tspan dx="2" dy="6"> samples Apollo 16 IMC</tspan></text>
<circle cx="557.6" cy="1224.0" r="9.3" fill="#6e6e6e" stroke="#000" stroke-width="2.0"/>
<text x="590.5" y="1227.8" font-size="18" font-family="Liberation Sans, sans-serif" fill="#000">McIntosh et al.<tspan dx="1.5" dy="-6" font-size="12.8">22</tspan><tspan dx="2" dy="6"> samples ARB</tspan></text>
<polygon points="557.6,1236.5 561.0,1246.9 571.9,1246.9 563.0,1253.3 566.4,1263.6 557.6,1257.2 548.8,1263.6 552.2,1253.3 543.3,1246.9 554.2,1246.9" fill="#f4e93c" stroke="#000" stroke-width="2.1" stroke-linejoin="miter"/>
<text x="590.5" y="1256" font-size="18" font-family="Liberation Sans, sans-serif" fill="#000">Y-86032</text>
<polygon points="557.6,1262.3 561.0,1272.7 571.9,1272.7 563.0,1279.1 566.4,1289.4 557.6,1283.0 548.8,1289.4 552.2,1279.1 543.3,1272.7 554.2,1272.7" fill="#ff4412" stroke="#000" stroke-width="2.1" stroke-linejoin="miter"/>
<text x="590.5" y="1282" font-size="18" font-family="Liberation Sans, sans-serif" fill="#000">Y981031</text>
<polygon points="557.6,1287.3 561.0,1297.7 571.9,1297.7 563.0,1304.1 566.4,1314.4 557.6,1308.0 548.8,1314.4 552.2,1304.1 543.3,1297.7 554.2,1297.7" fill="#8667ff" stroke="#000" stroke-width="2.1" stroke-linejoin="miter"/>
<text x="590.5" y="1307" font-size="18" font-family="Liberation Sans, sans-serif" fill="#000">Y983885</text>
</svg>
</body></html>
